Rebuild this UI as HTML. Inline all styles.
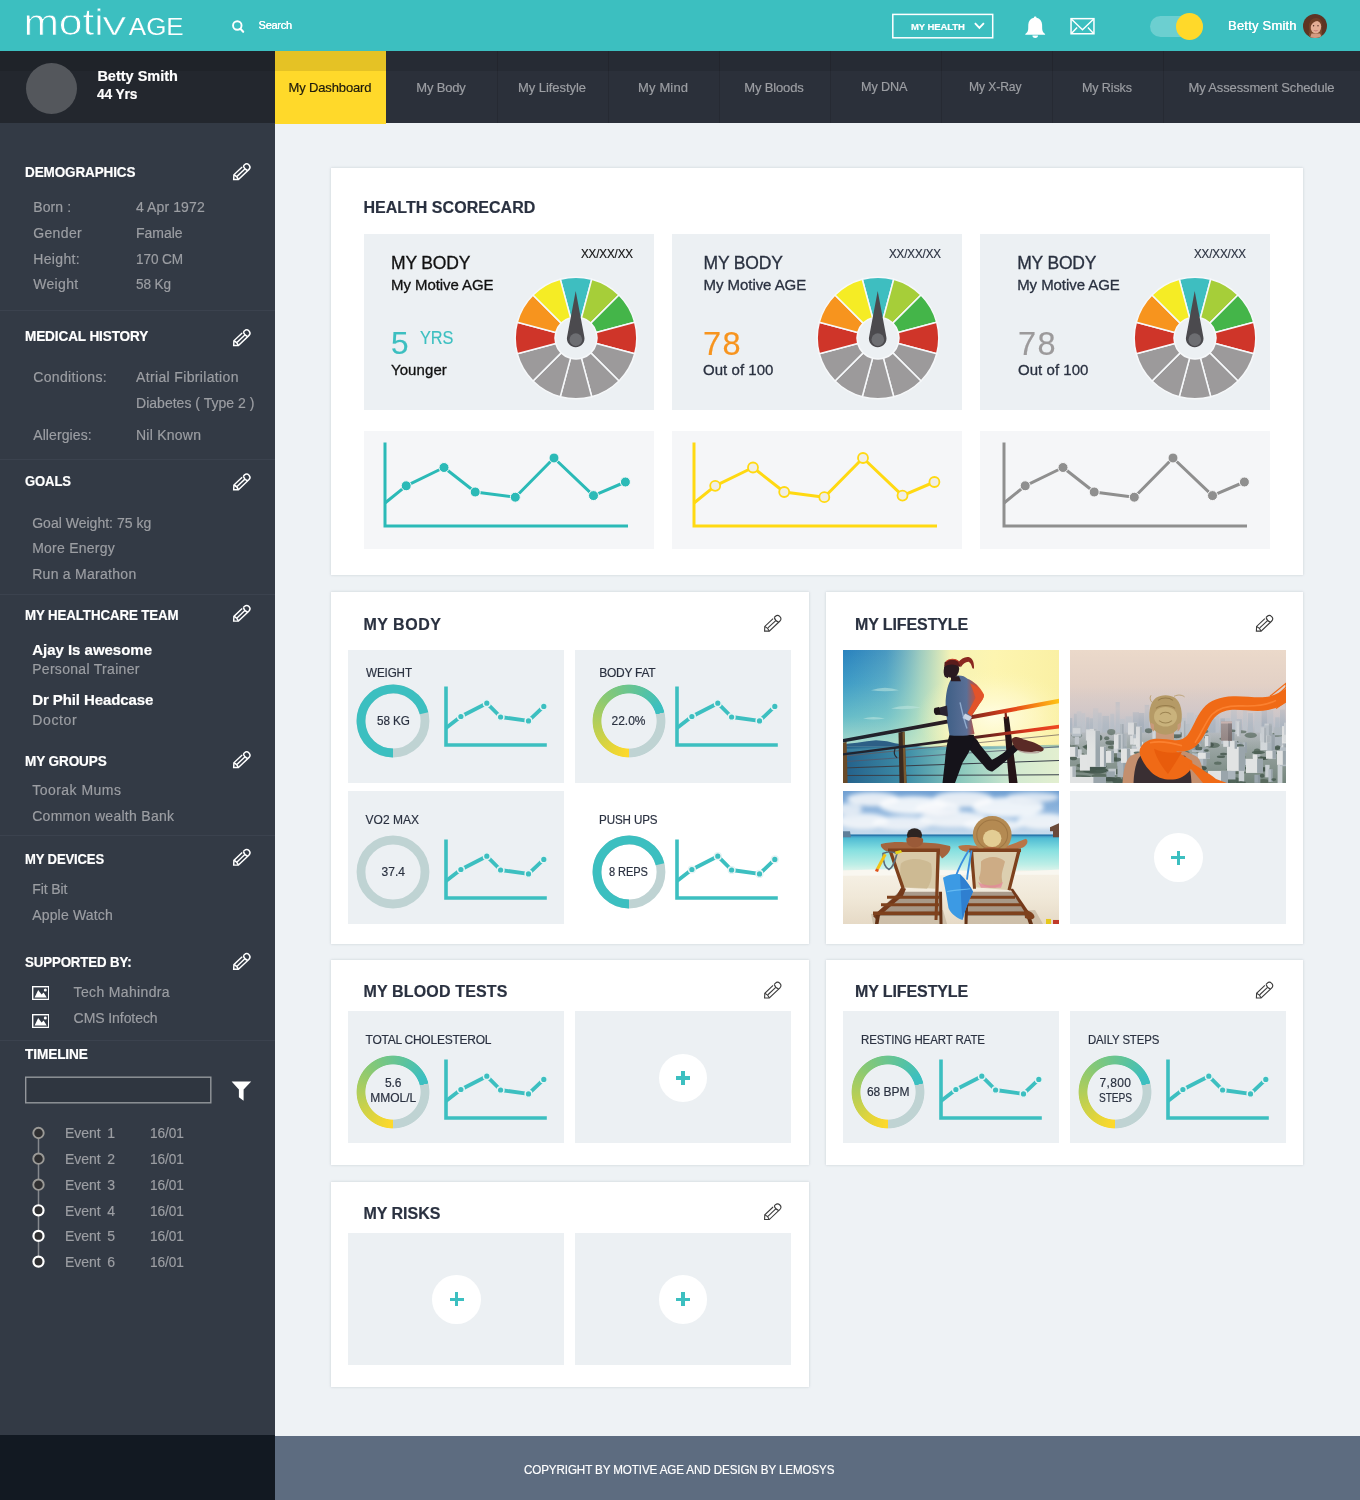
<!DOCTYPE html>
<html lang="en">
<head>
<meta charset="utf-8">
<title>motivAGE - My Dashboard</title>
<style>
html,body{margin:0;padding:0;}
body{position:relative;width:1360px;height:1500px;overflow:hidden;background:#eef2f5;font-family:"Liberation Sans",Arial,sans-serif;}
.b{position:absolute;display:block;}
.t{position:absolute;white-space:nowrap;display:block;-webkit-text-stroke:0.18px currentColor;}
</style>
</head>
<body>
<div class="b" style="left:275px;top:123px;width:1085px;height:1312px;background:#eef2f5;"></div>
<header>
<div class="b" style="left:0px;top:0px;width:1360px;height:51px;background:#3cbfc0;"></div>
<svg class="b" style="left:0px;top:0px;" width="200" height="51" viewBox="0 0 200 51"><g font-family="Liberation Sans, sans-serif" fill="#fff" stroke="#3cbfc0"><text x="23.4" y="35.3" font-size="36.5" stroke-width="0.75" textLength="80.4" lengthAdjust="spacingAndGlyphs">moti</text><text x="102.8" y="35.3" font-size="26.6" stroke-width="0.3" textLength="23.2" lengthAdjust="spacingAndGlyphs">V</text><text x="128.8" y="35.3" font-size="23.6" stroke-width="0.1" textLength="54.9" lengthAdjust="spacingAndGlyphs">AGE</text></g></svg>
<svg class="b" style="left:230px;top:17.6px;" width="16" height="16" viewBox="0 0 16 16"><circle cx="7.3" cy="7.5" r="4.25" fill="none" stroke="#fff" stroke-width="1.9"/><path d="M10.4,10.8 L13.2,13.8" stroke="#fff" stroke-width="2.1" stroke-linecap="round"/></svg>
<span class="t" style="left:258.60px;top:19.20px;font-size:11px;line-height:12px;color:#fff;letter-spacing:-0.271px;text-shadow:0 0 0.4px #fff;">Search</span>
<svg class="b" style="left:890px;top:12px;" width="106" height="28" viewBox="0 0 106 28"><rect x="2.8" y="2.4" width="99.9" height="23.4" fill="none" stroke="#fff" stroke-width="1.5"/></svg>
<span class="t" style="left:911.40px;top:20.80px;font-size:9.8px;line-height:11px;color:#fff;font-weight:700;letter-spacing:-0.120px;transform:scaleX(0.9729);transform-origin:0 0;">MY HEALTH</span>
<svg class="b" style="left:973px;top:21px;" width="13" height="10" viewBox="0 0 13 10"><path d="M1.9,2.2 L6.4,6.9 L10.9,2.2" fill="none" stroke="#fff" stroke-width="1.9"/></svg>
<svg class="b" style="left:1023px;top:15px;" width="24" height="24" viewBox="0 0 24 24"><path d="M12.2,1.5 c0.8,0 1.3,0.5 1.3,1.2 c3.2,0.7 5.4,3.2 5.6,6.8 l0.1,4.4 c0.1,2.2 1.2,3.8 2.9,5 l0,0.9 l-19.8,0 l0,-0.9 c1.7,-1.2 2.8,-2.8 2.9,-5 l0.1,-4.4 c0.2,-3.6 2.4,-6.1 5.6,-6.8 c0,-0.7 0.5,-1.2 1.3,-1.2 z" fill="#fff"/><path d="M9.4,20.6 a2.8,2.3 0 0 0 5.6,0 z" fill="#fff"/></svg>
<svg class="b" style="left:1069px;top:17px;" width="28" height="19" viewBox="0 0 28 19"><rect x="2.05" y="1.65" width="22.9" height="15.1" fill="none" stroke="#fff" stroke-width="1.5"/><path d="M2.3,2 L13.5,12.8 L24.7,2 M2.4,16.4 L8.1,10.4 M24.6,16.4 L18.9,10.4" fill="none" stroke="#fff" stroke-width="1.4"/></svg>
<div class="b" style="left:1149.5px;top:15.5px;width:53.5px;height:21.5px;background:#6ccfd0;border-radius:11px;"></div>
<div class="b" style="left:1176px;top:12.6px;width:27px;height:27px;background:#ffd92a;border-radius:50%;"></div>
<span class="t" style="left:1228.00px;top:18.40px;font-size:13px;line-height:15px;color:#fff;letter-spacing:0.213px;text-shadow:0 0 0.5px #fff;">Betty Smith</span>
<svg class="b" style="left:1302.5px;top:13.5px;" width="24" height="24" viewBox="0 0 24 24"><defs><clipPath id="avc"><circle cx="12" cy="12" r="12"/></clipPath></defs><g clip-path="url(#avc)"><rect width="24" height="24" fill="#5e3423"/><path d="M6,24 L6,12 C6,5 18,5 18.5,12 L19,24 Z" fill="#7d4a2e"/><ellipse cx="12.8" cy="12.6" rx="5.4" ry="6.9" fill="#e3ad95"/><path d="M6.2,13.5 C5.5,6.5 10,3.6 13.5,4 C17.5,4.4 19.6,7.5 19.2,12.5 C18.4,9.6 16.6,7.6 14.2,7 C11.4,7.4 8.4,9.4 7.6,13.2 L7,19 L5.4,19 Z" fill="#6f3f27"/><path d="M10.4,16.3 Q12.9,18.1 15.3,16.3 Q12.9,17 10.4,16.3Z" fill="#b04858"/><circle cx="10.6" cy="11.7" r="0.7" fill="#4a2a22"/><circle cx="15" cy="11.7" r="0.7" fill="#4a2a22"/><path d="M8.5,19.4 L17,19.4 L19,24 L7,24Z" fill="#d39a82"/></g></svg>
</header>
<nav>
<div class="b" style="left:0px;top:51px;width:275px;height:72px;background:#23272e;"></div>
<div class="b" style="left:275px;top:51px;width:1085px;height:72px;background:#2b303a;"></div>
<div class="b" style="left:275px;top:51px;width:111px;height:72.5px;background:#ffd92a;"></div>
<div class="b" style="left:496.5px;top:51px;width:1px;height:72px;background:#262a33;"></div>
<div class="b" style="left:607.5px;top:51px;width:1px;height:72px;background:#262a33;"></div>
<div class="b" style="left:718.5px;top:51px;width:1px;height:72px;background:#262a33;"></div>
<div class="b" style="left:829.5px;top:51px;width:1px;height:72px;background:#262a33;"></div>
<div class="b" style="left:940.5px;top:51px;width:1px;height:72px;background:#262a33;"></div>
<div class="b" style="left:1051.5px;top:51px;width:1px;height:72px;background:#262a33;"></div>
<div class="b" style="left:1162.5px;top:51px;width:1px;height:72px;background:#262a33;"></div>
<div class="b" style="left:0px;top:51px;width:1360px;height:20px;background:rgba(0,0,0,0.10);"></div>
<span class="t" style="left:288.50px;top:80.30px;font-size:13px;line-height:15px;color:#1d1a0c;letter-spacing:-0.140px;">My Dashboard</span>
<span class="t" style="left:416.25px;top:80.30px;font-size:13px;line-height:15px;color:#9c9ea3;letter-spacing:-0.179px;">My Body</span>
<span class="t" style="left:518.00px;top:80.30px;font-size:13px;line-height:15px;color:#9c9ea3;letter-spacing:-0.057px;">My Lifestyle</span>
<span class="t" style="left:638.00px;top:80.30px;font-size:13px;line-height:15px;color:#9c9ea3;letter-spacing:0.147px;">My Mind</span>
<span class="t" style="left:744.25px;top:80.30px;font-size:13px;line-height:15px;color:#9c9ea3;letter-spacing:-0.149px;">My Bloods</span>
<span class="t" style="left:861.25px;top:79.30px;font-size:13px;line-height:15px;color:#9c9ea3;letter-spacing:-0.120px;transform:scaleX(0.9730);transform-origin:0 0;">My DNA</span>
<span class="t" style="left:969.25px;top:79.30px;font-size:13px;line-height:15px;color:#9c9ea3;letter-spacing:-0.120px;transform:scaleX(0.9338);transform-origin:0 0;">My X-Ray</span>
<span class="t" style="left:1082.00px;top:80.30px;font-size:13px;line-height:15px;color:#9c9ea3;letter-spacing:-0.120px;transform:scaleX(0.9638);transform-origin:0 0;">My Risks</span>
<span class="t" style="left:1188.50px;top:80.30px;font-size:13px;line-height:15px;color:#9c9ea3;letter-spacing:-0.136px;">My Assessment Schedule</span>
<div class="b" style="left:25.5px;top:62.5px;width:51px;height:51px;background:#54575c;border-radius:50%;"></div>
<span class="t" style="left:97.40px;top:68.20px;font-size:14.5px;line-height:16px;color:#fff;font-weight:700;">Betty Smith</span>
<span class="t" style="left:97.40px;top:85.80px;font-size:14.5px;line-height:16px;color:#fff;font-weight:700;letter-spacing:-0.120px;transform:scaleX(0.9490);transform-origin:0 0;">44 Yrs</span>
</nav>
<aside>
<div class="b" style="left:0px;top:123px;width:275px;height:1312px;background:#333a45;"></div>
<div class="b" style="left:0px;top:1435px;width:275px;height:65px;background:#121922;"></div>
<div class="b" style="left:0px;top:310px;width:275px;height:1px;background:#3b424e;"></div>
<div class="b" style="left:0px;top:459px;width:275px;height:1px;background:#3b424e;"></div>
<div class="b" style="left:0px;top:594px;width:275px;height:1px;background:#3b424e;"></div>
<div class="b" style="left:0px;top:834.5px;width:275px;height:1px;background:#3b424e;"></div>
<div class="b" style="left:0px;top:1039.5px;width:275px;height:1px;background:#3b424e;"></div>
<span class="t" style="left:24.50px;top:164.20px;font-size:14px;line-height:16px;color:#fff;font-weight:700;letter-spacing:-0.120px;transform:scaleX(0.9644);transform-origin:0 0;">DEMOGRAPHICS</span>
<svg class="b" style="left:0;top:0;overflow:visible" width="1" height="1"><g transform="translate(241.3,172.3) rotate(-43.5) translate(-10.7,0)" fill="none" stroke="#fff" stroke-width="1.45" stroke-linejoin="miter" stroke-linecap="butt"><path d="M15,-3.25 L3.6,-3.25 L0.2,0 L3.6,3.25 L18.0,3.25 A3.3,3.25 0 0 0 18.0,-3.25 L16.6,-3.25"/><path d="M4.8,0 L15.6,0"/><path d="M3.6,-3.25 Q5.2,0 3.6,3.25"/><path d="M16.6,-3.25 Q14.9,0 16.6,3.25"/></g></svg>
<span class="t" style="left:33.20px;top:199.00px;font-size:14px;line-height:16px;color:#9c9ea3;letter-spacing:0.129px;">Born :</span>
<span class="t" style="left:136.00px;top:199.00px;font-size:14px;line-height:16px;color:#9c9ea3;letter-spacing:0.108px;">4 Apr 1972</span>
<span class="t" style="left:33.20px;top:224.80px;font-size:14px;line-height:16px;color:#9c9ea3;letter-spacing:0.360px;">Gender</span>
<span class="t" style="left:136.00px;top:224.80px;font-size:14px;line-height:16px;color:#9c9ea3;letter-spacing:-0.037px;">Famale</span>
<span class="t" style="left:33.20px;top:250.60px;font-size:14px;line-height:16px;color:#9c9ea3;letter-spacing:0.357px;">Height:</span>
<span class="t" style="left:136.00px;top:250.60px;font-size:14px;line-height:16px;color:#9c9ea3;letter-spacing:-0.120px;transform:scaleX(0.9706);transform-origin:0 0;">170 CM</span>
<span class="t" style="left:33.20px;top:276.30px;font-size:14px;line-height:16px;color:#9c9ea3;letter-spacing:0.336px;">Weight</span>
<span class="t" style="left:136.00px;top:276.30px;font-size:14px;line-height:16px;color:#9c9ea3;letter-spacing:-0.120px;transform:scaleX(0.9693);transform-origin:0 0;">58 Kg</span>
<span class="t" style="left:24.50px;top:327.90px;font-size:14px;line-height:16px;color:#fff;font-weight:700;letter-spacing:-0.120px;transform:scaleX(0.9694);transform-origin:0 0;">MEDICAL HISTORY</span>
<svg class="b" style="left:0;top:0;overflow:visible" width="1" height="1"><g transform="translate(241.3,338.3) rotate(-43.5) translate(-10.7,0)" fill="none" stroke="#fff" stroke-width="1.45" stroke-linejoin="miter" stroke-linecap="butt"><path d="M15,-3.25 L3.6,-3.25 L0.2,0 L3.6,3.25 L18.0,3.25 A3.3,3.25 0 0 0 18.0,-3.25 L16.6,-3.25"/><path d="M4.8,0 L15.6,0"/><path d="M3.6,-3.25 Q5.2,0 3.6,3.25"/><path d="M16.6,-3.25 Q14.9,0 16.6,3.25"/></g></svg>
<span class="t" style="left:33.20px;top:369.20px;font-size:14px;line-height:16px;color:#9c9ea3;letter-spacing:0.346px;">Conditions:</span>
<span class="t" style="left:136.00px;top:369.20px;font-size:14px;line-height:16px;color:#9c9ea3;letter-spacing:0.354px;">Atrial Fibrilation</span>
<span class="t" style="left:136.00px;top:395.00px;font-size:14px;line-height:16px;color:#9c9ea3;letter-spacing:0.021px;">Diabetes ( Type 2 )</span>
<span class="t" style="left:33.20px;top:426.60px;font-size:14px;line-height:16px;color:#9c9ea3;letter-spacing:0.102px;">Allergies:</span>
<span class="t" style="left:136.00px;top:426.60px;font-size:14px;line-height:16px;color:#9c9ea3;letter-spacing:0.246px;">Nil Known</span>
<span class="t" style="left:24.50px;top:473.10px;font-size:14px;line-height:16px;color:#fff;font-weight:700;letter-spacing:-0.120px;transform:scaleX(0.9331);transform-origin:0 0;">GOALS</span>
<svg class="b" style="left:0;top:0;overflow:visible" width="1" height="1"><g transform="translate(241.3,482.5) rotate(-43.5) translate(-10.7,0)" fill="none" stroke="#fff" stroke-width="1.45" stroke-linejoin="miter" stroke-linecap="butt"><path d="M15,-3.25 L3.6,-3.25 L0.2,0 L3.6,3.25 L18.0,3.25 A3.3,3.25 0 0 0 18.0,-3.25 L16.6,-3.25"/><path d="M4.8,0 L15.6,0"/><path d="M3.6,-3.25 Q5.2,0 3.6,3.25"/><path d="M16.6,-3.25 Q14.9,0 16.6,3.25"/></g></svg>
<span class="t" style="left:32.20px;top:514.90px;font-size:14px;line-height:16px;color:#9c9ea3;letter-spacing:0.011px;">Goal Weight: 75 kg</span>
<span class="t" style="left:32.20px;top:540.20px;font-size:14px;line-height:16px;color:#9c9ea3;letter-spacing:0.235px;">More Energy</span>
<span class="t" style="left:32.20px;top:566.20px;font-size:14px;line-height:16px;color:#9c9ea3;letter-spacing:0.277px;">Run a Marathon</span>
<span class="t" style="left:24.50px;top:606.70px;font-size:14px;line-height:16px;color:#fff;font-weight:700;letter-spacing:-0.120px;transform:scaleX(0.9508);transform-origin:0 0;">MY HEALTHCARE TEAM</span>
<svg class="b" style="left:0;top:0;overflow:visible" width="1" height="1"><g transform="translate(241.3,613.9) rotate(-43.5) translate(-10.7,0)" fill="none" stroke="#fff" stroke-width="1.45" stroke-linejoin="miter" stroke-linecap="butt"><path d="M15,-3.25 L3.6,-3.25 L0.2,0 L3.6,3.25 L18.0,3.25 A3.3,3.25 0 0 0 18.0,-3.25 L16.6,-3.25"/><path d="M4.8,0 L15.6,0"/><path d="M3.6,-3.25 Q5.2,0 3.6,3.25"/><path d="M16.6,-3.25 Q14.9,0 16.6,3.25"/></g></svg>
<span class="t" style="left:32.20px;top:640.60px;font-size:15px;line-height:17px;color:#fff;font-weight:700;letter-spacing:-0.019px;">Ajay Is awesome</span>
<span class="t" style="left:32.20px;top:661.20px;font-size:14px;line-height:16px;color:#9c9ea3;letter-spacing:0.299px;">Personal Trainer</span>
<span class="t" style="left:32.20px;top:691.00px;font-size:15px;line-height:17px;color:#fff;font-weight:700;letter-spacing:-0.091px;">Dr Phil Headcase</span>
<span class="t" style="left:32.20px;top:711.80px;font-size:14px;line-height:16px;color:#9c9ea3;letter-spacing:0.653px;">Doctor</span>
<span class="t" style="left:24.50px;top:752.90px;font-size:14px;line-height:16px;color:#fff;font-weight:700;letter-spacing:-0.120px;transform:scaleX(0.9697);transform-origin:0 0;">MY GROUPS</span>
<svg class="b" style="left:0;top:0;overflow:visible" width="1" height="1"><g transform="translate(241.3,760.3) rotate(-43.5) translate(-10.7,0)" fill="none" stroke="#fff" stroke-width="1.45" stroke-linejoin="miter" stroke-linecap="butt"><path d="M15,-3.25 L3.6,-3.25 L0.2,0 L3.6,3.25 L18.0,3.25 A3.3,3.25 0 0 0 18.0,-3.25 L16.6,-3.25"/><path d="M4.8,0 L15.6,0"/><path d="M3.6,-3.25 Q5.2,0 3.6,3.25"/><path d="M16.6,-3.25 Q14.9,0 16.6,3.25"/></g></svg>
<span class="t" style="left:32.20px;top:782.30px;font-size:14px;line-height:16px;color:#9c9ea3;letter-spacing:0.478px;">Toorak Mums</span>
<span class="t" style="left:32.20px;top:808.20px;font-size:14px;line-height:16px;color:#9c9ea3;letter-spacing:0.291px;">Common wealth Bank</span>
<span class="t" style="left:24.50px;top:850.70px;font-size:14px;line-height:16px;color:#fff;font-weight:700;letter-spacing:-0.120px;transform:scaleX(0.9303);transform-origin:0 0;">MY DEVICES</span>
<svg class="b" style="left:0;top:0;overflow:visible" width="1" height="1"><g transform="translate(241.3,857.9) rotate(-43.5) translate(-10.7,0)" fill="none" stroke="#fff" stroke-width="1.45" stroke-linejoin="miter" stroke-linecap="butt"><path d="M15,-3.25 L3.6,-3.25 L0.2,0 L3.6,3.25 L18.0,3.25 A3.3,3.25 0 0 0 18.0,-3.25 L16.6,-3.25"/><path d="M4.8,0 L15.6,0"/><path d="M3.6,-3.25 Q5.2,0 3.6,3.25"/><path d="M16.6,-3.25 Q14.9,0 16.6,3.25"/></g></svg>
<span class="t" style="left:32.20px;top:880.80px;font-size:14px;line-height:16px;color:#9c9ea3;letter-spacing:-0.080px;">Fit Bit</span>
<span class="t" style="left:32.20px;top:906.50px;font-size:14px;line-height:16px;color:#9c9ea3;letter-spacing:0.175px;">Apple Watch</span>
<span class="t" style="left:24.50px;top:954.40px;font-size:14px;line-height:16px;color:#fff;font-weight:700;letter-spacing:-0.120px;transform:scaleX(0.9472);transform-origin:0 0;">SUPPORTED BY:</span>
<svg class="b" style="left:0;top:0;overflow:visible" width="1" height="1"><g transform="translate(241.3,962.0999999999999) rotate(-43.5) translate(-10.7,0)" fill="none" stroke="#fff" stroke-width="1.45" stroke-linejoin="miter" stroke-linecap="butt"><path d="M15,-3.25 L3.6,-3.25 L0.2,0 L3.6,3.25 L18.0,3.25 A3.3,3.25 0 0 0 18.0,-3.25 L16.6,-3.25"/><path d="M4.8,0 L15.6,0"/><path d="M3.6,-3.25 Q5.2,0 3.6,3.25"/><path d="M16.6,-3.25 Q14.9,0 16.6,3.25"/></g></svg>
<svg class="b" style="left:31.7px;top:986px;" width="17.4" height="14.1" viewBox="0 0 17.4 14.1"><rect x="0.7" y="0.7" width="16" height="12.7" fill="none" stroke="#fff" stroke-width="1.4"/><path d="M2.6,11.6 L6.2,4 L9.6,8.6 L11.6,6.6 L14.8,11.6 Z" fill="#fff"/><circle cx="13.3" cy="4.1" r="1.5" fill="#fff"/></svg>
<svg class="b" style="left:31.7px;top:1013.6px;" width="17.4" height="14.1" viewBox="0 0 17.4 14.1"><rect x="0.7" y="0.7" width="16" height="12.7" fill="none" stroke="#fff" stroke-width="1.4"/><path d="M2.6,11.6 L6.2,4 L9.6,8.6 L11.6,6.6 L14.8,11.6 Z" fill="#fff"/><circle cx="13.3" cy="4.1" r="1.5" fill="#fff"/></svg>
<span class="t" style="left:73.60px;top:984.20px;font-size:14px;line-height:16px;color:#9c9ea3;letter-spacing:0.347px;">Tech Mahindra</span>
<span class="t" style="left:73.60px;top:1010.20px;font-size:14px;line-height:16px;color:#9c9ea3;letter-spacing:-0.074px;">CMS Infotech</span>
<span class="t" style="left:24.50px;top:1046.40px;font-size:14px;line-height:16px;color:#fff;font-weight:700;letter-spacing:-0.120px;transform:scaleX(0.9753);transform-origin:0 0;">TIMELINE</span>
<svg class="b" style="left:24px;top:1075px;" width="190" height="30" viewBox="0 0 190 30"><rect x="1.7" y="2.2" width="185.1" height="25.6" fill="#2f3640" stroke="#94979c" stroke-width="1.4"/></svg>
<svg class="b" style="left:231px;top:1081px;" width="21" height="21" viewBox="0 0 21 21"><path d="M0.6,0.6 L20.2,0.6 L12.6,8.6 L12.6,19.8 L7.9,16.2 L7.9,8.6 Z" fill="#fff"/></svg>
<svg class="b" style="left:0;top:0;overflow:visible" width="1" height="1"><path d="M38.5,1133 L38.5,1261.6" stroke="#85888d" stroke-width="1.5"/><circle cx="38.5" cy="1133" r="5.20" fill="#2f2f31" stroke="#9b9a97" stroke-width="1.9"/><circle cx="38.5" cy="1158.7" r="5.20" fill="#2f2f31" stroke="#9b9a97" stroke-width="1.9"/><circle cx="38.5" cy="1184.7" r="5.20" fill="#2f2f31" stroke="#9b9a97" stroke-width="1.9"/><circle cx="38.5" cy="1210.3" r="5.05" fill="#2f2f31" stroke="#ffffff" stroke-width="2.2"/><circle cx="38.5" cy="1235.9" r="5.05" fill="#2f2f31" stroke="#ffffff" stroke-width="2.2"/><circle cx="38.5" cy="1261.6" r="5.05" fill="#2f2f31" stroke="#ffffff" stroke-width="2.2"/></svg>
<span class="t" style="left:65.00px;top:1125.20px;font-size:14px;line-height:16px;color:#9c9ea3;letter-spacing:-0.050px;">Event</span>
<span class="t" style="left:107.30px;top:1125.20px;font-size:14px;line-height:16px;color:#9c9ea3;">1</span>
<span class="t" style="left:150.30px;top:1125.20px;font-size:14px;line-height:16px;color:#9c9ea3;letter-spacing:-0.120px;transform:scaleX(0.9782);transform-origin:0 0;">16/01</span>
<span class="t" style="left:65.00px;top:1150.90px;font-size:14px;line-height:16px;color:#9c9ea3;letter-spacing:-0.050px;">Event</span>
<span class="t" style="left:107.30px;top:1150.90px;font-size:14px;line-height:16px;color:#9c9ea3;">2</span>
<span class="t" style="left:150.30px;top:1150.90px;font-size:14px;line-height:16px;color:#9c9ea3;letter-spacing:-0.120px;transform:scaleX(0.9782);transform-origin:0 0;">16/01</span>
<span class="t" style="left:65.00px;top:1176.90px;font-size:14px;line-height:16px;color:#9c9ea3;letter-spacing:-0.050px;">Event</span>
<span class="t" style="left:107.30px;top:1176.90px;font-size:14px;line-height:16px;color:#9c9ea3;">3</span>
<span class="t" style="left:150.30px;top:1176.90px;font-size:14px;line-height:16px;color:#9c9ea3;letter-spacing:-0.120px;transform:scaleX(0.9782);transform-origin:0 0;">16/01</span>
<span class="t" style="left:65.00px;top:1202.50px;font-size:14px;line-height:16px;color:#9c9ea3;letter-spacing:-0.050px;">Event</span>
<span class="t" style="left:107.30px;top:1202.50px;font-size:14px;line-height:16px;color:#9c9ea3;">4</span>
<span class="t" style="left:150.30px;top:1202.50px;font-size:14px;line-height:16px;color:#9c9ea3;letter-spacing:-0.120px;transform:scaleX(0.9782);transform-origin:0 0;">16/01</span>
<span class="t" style="left:65.00px;top:1228.10px;font-size:14px;line-height:16px;color:#9c9ea3;letter-spacing:-0.050px;">Event</span>
<span class="t" style="left:107.30px;top:1228.10px;font-size:14px;line-height:16px;color:#9c9ea3;">5</span>
<span class="t" style="left:150.30px;top:1228.10px;font-size:14px;line-height:16px;color:#9c9ea3;letter-spacing:-0.120px;transform:scaleX(0.9782);transform-origin:0 0;">16/01</span>
<span class="t" style="left:65.00px;top:1253.80px;font-size:14px;line-height:16px;color:#9c9ea3;letter-spacing:-0.050px;">Event</span>
<span class="t" style="left:107.30px;top:1253.80px;font-size:14px;line-height:16px;color:#9c9ea3;">6</span>
<span class="t" style="left:150.30px;top:1253.80px;font-size:14px;line-height:16px;color:#9c9ea3;letter-spacing:-0.120px;transform:scaleX(0.9782);transform-origin:0 0;">16/01</span>
</aside>
<main>
<section>
<div class="b" style="left:331px;top:167.5px;width:972px;height:407.5px;background:#fff;box-shadow:0 0 2.5px rgba(60,80,100,0.22);"></div>
<span class="t" style="left:363.40px;top:199.30px;font-size:16px;line-height:17px;color:#2a3140;font-weight:700;letter-spacing:0.049px;">HEALTH SCORECARD</span>
<div class="b" style="left:364px;top:234px;width:290px;height:176px;background:#ecf0f3;"></div>
<span class="t" style="left:391.00px;top:252.80px;font-size:17.5px;line-height:20px;color:#111;letter-spacing:-0.182px;-webkit-text-stroke:0.3px currentColor;">MY BODY</span>
<span class="t" style="left:391.00px;top:276.10px;font-size:15px;line-height:17px;color:#111;letter-spacing:-0.063px;-webkit-text-stroke:0.3px currentColor;">My Motive AGE</span>
<span class="t" style="left:580.50px;top:247.10px;font-size:12.6px;line-height:14px;color:#111;letter-spacing:-0.120px;transform:scaleX(0.9189);transform-origin:0 0;">XX/XX/XX</span>
<span class="t" style="left:391.00px;top:325.20px;font-size:31.5px;line-height:36px;color:#3cbfc0;">5</span>
<span class="t" style="left:420.20px;top:327.80px;font-size:17.6px;line-height:20px;color:#3cbfc0;letter-spacing:-0.120px;transform:scaleX(0.9263);transform-origin:0 0;">YRS</span>
<span class="t" style="left:391.00px;top:361.40px;font-size:15px;line-height:17px;color:#111;letter-spacing:0.077px;-webkit-text-stroke:0.3px currentColor;">Younger</span>
<svg class="b" style="left:511.1px;top:272.8px;" width="130" height="130" viewBox="0 0 130 130"><path d="M59.56,44.72 L49.26,6.27 A60.8,60.8 0 0 1 80.74,6.27 L70.44,44.72 A21.0,21.0 0 0 0 59.56,44.72 Z" fill="#3ebec0" stroke="#f6f8fa" stroke-width="1.5" stroke-linejoin="round"/><path d="M70.44,44.72 L80.74,6.27 A60.8,60.8 0 0 1 107.99,22.01 L79.85,50.15 A21.0,21.0 0 0 0 70.44,44.72 Z" fill="#a6ce39" stroke="#f6f8fa" stroke-width="1.5" stroke-linejoin="round"/><path d="M79.85,50.15 L107.99,22.01 A60.8,60.8 0 0 1 123.73,49.26 L85.28,59.56 A21.0,21.0 0 0 0 79.85,50.15 Z" fill="#44b549" stroke="#f6f8fa" stroke-width="1.5" stroke-linejoin="round"/><path d="M85.28,59.56 L123.73,49.26 A60.8,60.8 0 0 1 123.73,80.74 L85.28,70.44 A21.0,21.0 0 0 0 85.28,59.56 Z" fill="#cf3529" stroke="#f6f8fa" stroke-width="1.5" stroke-linejoin="round"/><path d="M85.28,70.44 L123.73,80.74 A60.8,60.8 0 0 1 107.99,107.99 L79.85,79.85 A21.0,21.0 0 0 0 85.28,70.44 Z" fill="#9c9a9b" stroke="#f6f8fa" stroke-width="1.5" stroke-linejoin="round"/><path d="M79.85,79.85 L107.99,107.99 A60.8,60.8 0 0 1 80.74,123.73 L70.44,85.28 A21.0,21.0 0 0 0 79.85,79.85 Z" fill="#9c9a9b" stroke="#f6f8fa" stroke-width="1.5" stroke-linejoin="round"/><path d="M70.44,85.28 L80.74,123.73 A60.8,60.8 0 0 1 49.26,123.73 L59.56,85.28 A21.0,21.0 0 0 0 70.44,85.28 Z" fill="#9c9a9b" stroke="#f6f8fa" stroke-width="1.5" stroke-linejoin="round"/><path d="M59.56,85.28 L49.26,123.73 A60.8,60.8 0 0 1 22.01,107.99 L50.15,79.85 A21.0,21.0 0 0 0 59.56,85.28 Z" fill="#9c9a9b" stroke="#f6f8fa" stroke-width="1.5" stroke-linejoin="round"/><path d="M50.15,79.85 L22.01,107.99 A60.8,60.8 0 0 1 6.27,80.74 L44.72,70.44 A21.0,21.0 0 0 0 50.15,79.85 Z" fill="#9c9a9b" stroke="#f6f8fa" stroke-width="1.5" stroke-linejoin="round"/><path d="M44.72,70.44 L6.27,80.74 A60.8,60.8 0 0 1 6.27,49.26 L44.72,59.56 A21.0,21.0 0 0 0 44.72,70.44 Z" fill="#cf3529" stroke="#f6f8fa" stroke-width="1.5" stroke-linejoin="round"/><path d="M44.72,59.56 L6.27,49.26 A60.8,60.8 0 0 1 22.01,22.01 L50.15,50.15 A21.0,21.0 0 0 0 44.72,59.56 Z" fill="#f7941e" stroke="#f6f8fa" stroke-width="1.5" stroke-linejoin="round"/><path d="M50.15,50.15 L22.01,22.01 A60.8,60.8 0 0 1 49.26,6.27 L59.56,44.72 A21.0,21.0 0 0 0 50.15,50.15 Z" fill="#f5ec25" stroke="#f6f8fa" stroke-width="1.5" stroke-linejoin="round"/><path d="M64.7,18.0 L73.2,63.2 A8.8,8.8 0 1 1 56.2,63.2 Z" fill="#4b4a4e"/><circle cx="64.8" cy="66.6" r="6.3" fill="#6d6e72"/></svg>
<div class="b" style="left:672px;top:234px;width:290px;height:176px;background:#ecf0f3;"></div>
<span class="t" style="left:703.60px;top:252.80px;font-size:17.5px;line-height:20px;color:#2a3140;letter-spacing:-0.182px;-webkit-text-stroke:0.3px currentColor;">MY BODY</span>
<span class="t" style="left:703.60px;top:276.10px;font-size:15px;line-height:17px;color:#2a3140;letter-spacing:-0.063px;-webkit-text-stroke:0.3px currentColor;">My Motive AGE</span>
<span class="t" style="left:888.50px;top:247.10px;font-size:12.6px;line-height:14px;color:#2a3140;letter-spacing:-0.120px;transform:scaleX(0.9189);transform-origin:0 0;">XX/XX/XX</span>
<span class="t" style="left:703.00px;top:325.50px;font-size:32.5px;line-height:36px;color:#f7941e;letter-spacing:1.449px;">78</span>
<span class="t" style="left:703.00px;top:361.40px;font-size:15px;line-height:17px;color:#2a3140;letter-spacing:0.039px;-webkit-text-stroke:0.3px currentColor;">Out of 100</span>
<svg class="b" style="left:813.1px;top:272.8px;" width="130" height="130" viewBox="0 0 130 130"><path d="M59.56,44.72 L49.26,6.27 A60.8,60.8 0 0 1 80.74,6.27 L70.44,44.72 A21.0,21.0 0 0 0 59.56,44.72 Z" fill="#3ebec0" stroke="#f6f8fa" stroke-width="1.5" stroke-linejoin="round"/><path d="M70.44,44.72 L80.74,6.27 A60.8,60.8 0 0 1 107.99,22.01 L79.85,50.15 A21.0,21.0 0 0 0 70.44,44.72 Z" fill="#a6ce39" stroke="#f6f8fa" stroke-width="1.5" stroke-linejoin="round"/><path d="M79.85,50.15 L107.99,22.01 A60.8,60.8 0 0 1 123.73,49.26 L85.28,59.56 A21.0,21.0 0 0 0 79.85,50.15 Z" fill="#44b549" stroke="#f6f8fa" stroke-width="1.5" stroke-linejoin="round"/><path d="M85.28,59.56 L123.73,49.26 A60.8,60.8 0 0 1 123.73,80.74 L85.28,70.44 A21.0,21.0 0 0 0 85.28,59.56 Z" fill="#cf3529" stroke="#f6f8fa" stroke-width="1.5" stroke-linejoin="round"/><path d="M85.28,70.44 L123.73,80.74 A60.8,60.8 0 0 1 107.99,107.99 L79.85,79.85 A21.0,21.0 0 0 0 85.28,70.44 Z" fill="#9c9a9b" stroke="#f6f8fa" stroke-width="1.5" stroke-linejoin="round"/><path d="M79.85,79.85 L107.99,107.99 A60.8,60.8 0 0 1 80.74,123.73 L70.44,85.28 A21.0,21.0 0 0 0 79.85,79.85 Z" fill="#9c9a9b" stroke="#f6f8fa" stroke-width="1.5" stroke-linejoin="round"/><path d="M70.44,85.28 L80.74,123.73 A60.8,60.8 0 0 1 49.26,123.73 L59.56,85.28 A21.0,21.0 0 0 0 70.44,85.28 Z" fill="#9c9a9b" stroke="#f6f8fa" stroke-width="1.5" stroke-linejoin="round"/><path d="M59.56,85.28 L49.26,123.73 A60.8,60.8 0 0 1 22.01,107.99 L50.15,79.85 A21.0,21.0 0 0 0 59.56,85.28 Z" fill="#9c9a9b" stroke="#f6f8fa" stroke-width="1.5" stroke-linejoin="round"/><path d="M50.15,79.85 L22.01,107.99 A60.8,60.8 0 0 1 6.27,80.74 L44.72,70.44 A21.0,21.0 0 0 0 50.15,79.85 Z" fill="#9c9a9b" stroke="#f6f8fa" stroke-width="1.5" stroke-linejoin="round"/><path d="M44.72,70.44 L6.27,80.74 A60.8,60.8 0 0 1 6.27,49.26 L44.72,59.56 A21.0,21.0 0 0 0 44.72,70.44 Z" fill="#cf3529" stroke="#f6f8fa" stroke-width="1.5" stroke-linejoin="round"/><path d="M44.72,59.56 L6.27,49.26 A60.8,60.8 0 0 1 22.01,22.01 L50.15,50.15 A21.0,21.0 0 0 0 44.72,59.56 Z" fill="#f7941e" stroke="#f6f8fa" stroke-width="1.5" stroke-linejoin="round"/><path d="M50.15,50.15 L22.01,22.01 A60.8,60.8 0 0 1 49.26,6.27 L59.56,44.72 A21.0,21.0 0 0 0 50.15,50.15 Z" fill="#f5ec25" stroke="#f6f8fa" stroke-width="1.5" stroke-linejoin="round"/><path d="M64.7,18.0 L73.2,63.2 A8.8,8.8 0 1 1 56.2,63.2 Z" fill="#4b4a4e"/><circle cx="64.8" cy="66.6" r="6.3" fill="#6d6e72"/></svg>
<div class="b" style="left:980px;top:234px;width:290px;height:176px;background:#ecf0f3;"></div>
<span class="t" style="left:1017.20px;top:252.80px;font-size:17.5px;line-height:20px;color:#2a3140;letter-spacing:-0.182px;-webkit-text-stroke:0.3px currentColor;">MY BODY</span>
<span class="t" style="left:1017.20px;top:276.10px;font-size:15px;line-height:17px;color:#2a3140;letter-spacing:-0.063px;-webkit-text-stroke:0.3px currentColor;">My Motive AGE</span>
<span class="t" style="left:1193.80px;top:247.10px;font-size:12.6px;line-height:14px;color:#2a3140;letter-spacing:-0.120px;transform:scaleX(0.9189);transform-origin:0 0;">XX/XX/XX</span>
<span class="t" style="left:1018.00px;top:325.50px;font-size:32.5px;line-height:36px;color:#9c9a9b;letter-spacing:1.449px;">78</span>
<span class="t" style="left:1018.00px;top:361.40px;font-size:15px;line-height:17px;color:#2a3140;letter-spacing:0.039px;-webkit-text-stroke:0.3px currentColor;">Out of 100</span>
<svg class="b" style="left:1130.4px;top:272.8px;" width="130" height="130" viewBox="0 0 130 130"><path d="M59.56,44.72 L49.26,6.27 A60.8,60.8 0 0 1 80.74,6.27 L70.44,44.72 A21.0,21.0 0 0 0 59.56,44.72 Z" fill="#3ebec0" stroke="#f6f8fa" stroke-width="1.5" stroke-linejoin="round"/><path d="M70.44,44.72 L80.74,6.27 A60.8,60.8 0 0 1 107.99,22.01 L79.85,50.15 A21.0,21.0 0 0 0 70.44,44.72 Z" fill="#a6ce39" stroke="#f6f8fa" stroke-width="1.5" stroke-linejoin="round"/><path d="M79.85,50.15 L107.99,22.01 A60.8,60.8 0 0 1 123.73,49.26 L85.28,59.56 A21.0,21.0 0 0 0 79.85,50.15 Z" fill="#44b549" stroke="#f6f8fa" stroke-width="1.5" stroke-linejoin="round"/><path d="M85.28,59.56 L123.73,49.26 A60.8,60.8 0 0 1 123.73,80.74 L85.28,70.44 A21.0,21.0 0 0 0 85.28,59.56 Z" fill="#cf3529" stroke="#f6f8fa" stroke-width="1.5" stroke-linejoin="round"/><path d="M85.28,70.44 L123.73,80.74 A60.8,60.8 0 0 1 107.99,107.99 L79.85,79.85 A21.0,21.0 0 0 0 85.28,70.44 Z" fill="#9c9a9b" stroke="#f6f8fa" stroke-width="1.5" stroke-linejoin="round"/><path d="M79.85,79.85 L107.99,107.99 A60.8,60.8 0 0 1 80.74,123.73 L70.44,85.28 A21.0,21.0 0 0 0 79.85,79.85 Z" fill="#9c9a9b" stroke="#f6f8fa" stroke-width="1.5" stroke-linejoin="round"/><path d="M70.44,85.28 L80.74,123.73 A60.8,60.8 0 0 1 49.26,123.73 L59.56,85.28 A21.0,21.0 0 0 0 70.44,85.28 Z" fill="#9c9a9b" stroke="#f6f8fa" stroke-width="1.5" stroke-linejoin="round"/><path d="M59.56,85.28 L49.26,123.73 A60.8,60.8 0 0 1 22.01,107.99 L50.15,79.85 A21.0,21.0 0 0 0 59.56,85.28 Z" fill="#9c9a9b" stroke="#f6f8fa" stroke-width="1.5" stroke-linejoin="round"/><path d="M50.15,79.85 L22.01,107.99 A60.8,60.8 0 0 1 6.27,80.74 L44.72,70.44 A21.0,21.0 0 0 0 50.15,79.85 Z" fill="#9c9a9b" stroke="#f6f8fa" stroke-width="1.5" stroke-linejoin="round"/><path d="M44.72,70.44 L6.27,80.74 A60.8,60.8 0 0 1 6.27,49.26 L44.72,59.56 A21.0,21.0 0 0 0 44.72,70.44 Z" fill="#cf3529" stroke="#f6f8fa" stroke-width="1.5" stroke-linejoin="round"/><path d="M44.72,59.56 L6.27,49.26 A60.8,60.8 0 0 1 22.01,22.01 L50.15,50.15 A21.0,21.0 0 0 0 44.72,59.56 Z" fill="#f7941e" stroke="#f6f8fa" stroke-width="1.5" stroke-linejoin="round"/><path d="M50.15,50.15 L22.01,22.01 A60.8,60.8 0 0 1 49.26,6.27 L59.56,44.72 A21.0,21.0 0 0 0 50.15,50.15 Z" fill="#f5ec25" stroke="#f6f8fa" stroke-width="1.5" stroke-linejoin="round"/><path d="M64.7,18.0 L73.2,63.2 A8.8,8.8 0 1 1 56.2,63.2 Z" fill="#4b4a4e"/><circle cx="64.8" cy="66.6" r="6.3" fill="#6d6e72"/></svg>
<div class="b" style="left:364px;top:431px;width:290px;height:118px;background:#f5f6f8;"></div>
<svg class="b" style="left:381px;top:438px;" width="256" height="96" viewBox="0 0 256 96"><path d="M4.0,4.5 L4.0,88.0 L247.0,88.0" fill="none" stroke="#2bbab7" stroke-width="3"/><polyline points="4.0,65.0 25.2,47.8 63.0,29.5 94.2,54.0 134.3,59.2 173.0,20.0 212.5,57.6 244.4,44.0" fill="none" stroke="#2bbab7" stroke-width="3" stroke-linejoin="round"/><circle cx="25.2" cy="47.8" r="5" fill="#2bbab7" stroke="#f8f8f9" stroke-width="1"/><circle cx="63.0" cy="29.5" r="5" fill="#2bbab7" stroke="#f8f8f9" stroke-width="1"/><circle cx="94.2" cy="54.0" r="5" fill="#2bbab7" stroke="#f8f8f9" stroke-width="1"/><circle cx="134.3" cy="59.2" r="5" fill="#2bbab7" stroke="#f8f8f9" stroke-width="1"/><circle cx="173.0" cy="20.0" r="5" fill="#2bbab7" stroke="#f8f8f9" stroke-width="1"/><circle cx="212.5" cy="57.6" r="5" fill="#2bbab7" stroke="#f8f8f9" stroke-width="1"/><circle cx="244.4" cy="44.0" r="5" fill="#2bbab7" stroke="#f8f8f9" stroke-width="1"/></svg>
<div class="b" style="left:672px;top:431px;width:290px;height:118px;background:#f5f6f8;"></div>
<svg class="b" style="left:689.5px;top:438px;" width="256" height="96" viewBox="0 0 256 96"><path d="M4.0,4.5 L4.0,88.0 L247.0,88.0" fill="none" stroke="#ffd912" stroke-width="3"/><polyline points="4.0,65.0 25.2,47.8 63.0,29.5 94.2,54.0 134.3,59.2 173.0,20.0 212.5,57.6 244.4,44.0" fill="none" stroke="#ffd912" stroke-width="3" stroke-linejoin="round"/><circle cx="25.2" cy="47.8" r="5" fill="#f0eee6" stroke="#ffd912" stroke-width="1.8"/><circle cx="63.0" cy="29.5" r="5" fill="#f0eee6" stroke="#ffd912" stroke-width="1.8"/><circle cx="94.2" cy="54.0" r="5" fill="#f0eee6" stroke="#ffd912" stroke-width="1.8"/><circle cx="134.3" cy="59.2" r="5" fill="#f0eee6" stroke="#ffd912" stroke-width="1.8"/><circle cx="173.0" cy="20.0" r="5" fill="#f0eee6" stroke="#ffd912" stroke-width="1.8"/><circle cx="212.5" cy="57.6" r="5" fill="#f0eee6" stroke="#ffd912" stroke-width="1.8"/><circle cx="244.4" cy="44.0" r="5" fill="#f0eee6" stroke="#ffd912" stroke-width="1.8"/></svg>
<div class="b" style="left:980px;top:431px;width:290px;height:118px;background:#f5f6f8;"></div>
<svg class="b" style="left:1000.2px;top:438px;" width="256" height="96" viewBox="0 0 256 96"><path d="M4.0,4.5 L4.0,88.0 L247.0,88.0" fill="none" stroke="#8f8f8f" stroke-width="3"/><polyline points="4.0,65.0 25.2,47.8 63.0,29.5 94.2,54.0 134.3,59.2 173.0,20.0 212.5,57.6 244.4,44.0" fill="none" stroke="#8f8f8f" stroke-width="3" stroke-linejoin="round"/><circle cx="25.2" cy="47.8" r="5" fill="#8f8f8f" stroke="#f8f8f9" stroke-width="1"/><circle cx="63.0" cy="29.5" r="5" fill="#8f8f8f" stroke="#f8f8f9" stroke-width="1"/><circle cx="94.2" cy="54.0" r="5" fill="#8f8f8f" stroke="#f8f8f9" stroke-width="1"/><circle cx="134.3" cy="59.2" r="5" fill="#8f8f8f" stroke="#f8f8f9" stroke-width="1"/><circle cx="173.0" cy="20.0" r="5" fill="#8f8f8f" stroke="#f8f8f9" stroke-width="1"/><circle cx="212.5" cy="57.6" r="5" fill="#8f8f8f" stroke="#f8f8f9" stroke-width="1"/><circle cx="244.4" cy="44.0" r="5" fill="#8f8f8f" stroke="#f8f8f9" stroke-width="1"/></svg>
</section>
<section>
<div class="b" style="left:331px;top:592px;width:478px;height:352px;background:#fff;box-shadow:0 0 2.5px rgba(60,80,100,0.22);"></div>
<span class="t" style="left:363.40px;top:615.90px;font-size:16px;line-height:17px;color:#2a3140;font-weight:700;letter-spacing:0.519px;">MY BODY</span>
<svg class="b" style="left:0;top:0;overflow:visible" width="1" height="1"><g transform="translate(772.2,623.9) rotate(-43.5) translate(-10.7,0)" fill="none" stroke="#3c3c3c" stroke-width="1.1" stroke-linejoin="miter" stroke-linecap="butt"><path d="M15,-3.25 L3.6,-3.25 L0.2,0 L3.6,3.25 L18.0,3.25 A3.3,3.25 0 0 0 18.0,-3.25 L16.6,-3.25"/><path d="M4.8,0 L15.6,0"/><path d="M3.6,-3.25 Q5.2,0 3.6,3.25"/><path d="M16.6,-3.25 Q14.9,0 16.6,3.25"/></g></svg>
<div class="b" style="left:348px;top:650px;width:216px;height:133px;background:#ecf0f3;"></div>
<span class="t" style="left:365.60px;top:666.30px;font-size:12px;line-height:14px;color:#2a3140;letter-spacing:-0.120px;transform:scaleX(0.9706);transform-origin:0 0;">WEIGHT</span>
<svg class="b" style="left:355.2px;top:682.6px;" width="76" height="76" viewBox="0 0 76 76"><circle cx="38.0" cy="38.0" r="32.0" fill="none" stroke="#bfd3d3" stroke-width="8.8"/><path d="M38.00,70.00 A32.0,32.0 0 1 1 69.05,30.26" fill="none" stroke="#3cbfc0" stroke-width="8.8"/></svg>
<span class="t" style="left:376.80px;top:714.00px;font-size:12px;line-height:14px;color:#2a3140;letter-spacing:-0.120px;transform:scaleX(0.9779);transform-origin:0 0;">58 KG</span>
<svg class="b" style="left:442px;top:683px;" width="112" height="68" viewBox="0 0 112 68"><path d="M4.0,3.5 L4.0,62.0 L104.8,62.0" fill="none" stroke="#3cbfc0" stroke-width="3.6"/><polyline points="4.0,45.0 18.9,33.5 44.8,20.2 58.6,34.0 86.5,37.9 101.8,23.4" fill="none" stroke="#3cbfc0" stroke-width="3.8" stroke-linejoin="round"/><circle cx="18.9" cy="33.5" r="3.35" fill="#3cbfc0" stroke="#e6f3f4" stroke-width="1.5"/><circle cx="44.8" cy="20.2" r="3.35" fill="#3cbfc0" stroke="#e6f3f4" stroke-width="1.5"/><circle cx="58.6" cy="34.0" r="3.35" fill="#3cbfc0" stroke="#e6f3f4" stroke-width="1.5"/><circle cx="86.5" cy="37.9" r="3.35" fill="#3cbfc0" stroke="#e6f3f4" stroke-width="1.5"/><circle cx="101.8" cy="23.4" r="3.35" fill="#3cbfc0" stroke="#e6f3f4" stroke-width="1.5"/></svg>
<div class="b" style="left:575px;top:650px;width:216px;height:133px;background:#ecf0f3;"></div>
<span class="t" style="left:599.20px;top:666.30px;font-size:12px;line-height:14px;color:#2a3140;letter-spacing:-0.248px;">BODY FAT</span>
<div class="b" style="left:590.5px;top:682.6px;width:76px;height:76px;border-radius:50%;background:conic-gradient(from 180deg,#ffd92a 0deg,#ecd634 25deg,#b9cf55 80deg,#84c877 140deg,#5cc39c 200deg,#3cbfc0 245deg,#3cbfc0 256deg,#bfd3d3 256.5deg,#bfd3d3 360deg);-webkit-mask:radial-gradient(circle closest-side,transparent 27.2px,#000 28.0px,#000 36.0px,transparent 36.8px);mask:radial-gradient(circle closest-side,transparent 27.2px,#000 28.0px,#000 36.0px,transparent 36.8px);"></div>
<span class="t" style="left:611.50px;top:714.00px;font-size:12px;line-height:14px;color:#2a3140;letter-spacing:-0.006px;">22.0%</span>
<svg class="b" style="left:673.2px;top:683px;" width="112" height="68" viewBox="0 0 112 68"><path d="M4.0,3.5 L4.0,62.0 L104.8,62.0" fill="none" stroke="#3cbfc0" stroke-width="3.6"/><polyline points="4.0,45.0 18.9,33.5 44.8,20.2 58.6,34.0 86.5,37.9 101.8,23.4" fill="none" stroke="#3cbfc0" stroke-width="3.8" stroke-linejoin="round"/><circle cx="18.9" cy="33.5" r="3.35" fill="#3cbfc0" stroke="#e6f3f4" stroke-width="1.5"/><circle cx="44.8" cy="20.2" r="3.35" fill="#3cbfc0" stroke="#e6f3f4" stroke-width="1.5"/><circle cx="58.6" cy="34.0" r="3.35" fill="#3cbfc0" stroke="#e6f3f4" stroke-width="1.5"/><circle cx="86.5" cy="37.9" r="3.35" fill="#3cbfc0" stroke="#e6f3f4" stroke-width="1.5"/><circle cx="101.8" cy="23.4" r="3.35" fill="#3cbfc0" stroke="#e6f3f4" stroke-width="1.5"/></svg>
<div class="b" style="left:348px;top:791px;width:216px;height:133px;background:#ecf0f3;"></div>
<span class="t" style="left:365.60px;top:812.50px;font-size:12px;line-height:14px;color:#2a3140;letter-spacing:0.008px;">VO2 MAX</span>
<svg class="b" style="left:355.2px;top:833.6px;" width="76" height="76" viewBox="0 0 76 76"><circle cx="38.0" cy="38.0" r="32.0" fill="none" stroke="#bfd3d3" stroke-width="8.8"/></svg>
<span class="t" style="left:381.50px;top:865.00px;font-size:12px;line-height:14px;color:#2a3140;letter-spacing:0.015px;">37.4</span>
<svg class="b" style="left:442px;top:835.6px;" width="112" height="68" viewBox="0 0 112 68"><path d="M4.0,3.5 L4.0,62.0 L104.8,62.0" fill="none" stroke="#3cbfc0" stroke-width="3.6"/><polyline points="4.0,45.0 18.9,33.5 44.8,20.2 58.6,34.0 86.5,37.9 101.8,23.4" fill="none" stroke="#3cbfc0" stroke-width="3.8" stroke-linejoin="round"/><circle cx="18.9" cy="33.5" r="3.35" fill="#3cbfc0" stroke="#e6f3f4" stroke-width="1.5"/><circle cx="44.8" cy="20.2" r="3.35" fill="#3cbfc0" stroke="#e6f3f4" stroke-width="1.5"/><circle cx="58.6" cy="34.0" r="3.35" fill="#3cbfc0" stroke="#e6f3f4" stroke-width="1.5"/><circle cx="86.5" cy="37.9" r="3.35" fill="#3cbfc0" stroke="#e6f3f4" stroke-width="1.5"/><circle cx="101.8" cy="23.4" r="3.35" fill="#3cbfc0" stroke="#e6f3f4" stroke-width="1.5"/></svg>
<span class="t" style="left:599.20px;top:812.50px;font-size:12px;line-height:14px;color:#2a3140;letter-spacing:-0.120px;transform:scaleX(0.9684);transform-origin:0 0;">PUSH UPS</span>
<svg class="b" style="left:590.5px;top:833.6px;" width="76" height="76" viewBox="0 0 76 76"><circle cx="38.0" cy="38.0" r="32.0" fill="none" stroke="#bfd3d3" stroke-width="8.8"/><path d="M38.00,70.00 A32.0,32.0 0 1 1 69.05,30.26" fill="none" stroke="#3cbfc0" stroke-width="8.8"/></svg>
<span class="t" style="left:609.10px;top:865.00px;font-size:12px;line-height:14px;color:#2a3140;letter-spacing:-0.120px;transform:scaleX(0.9219);transform-origin:0 0;">8 REPS</span>
<svg class="b" style="left:673.2px;top:835.6px;" width="112" height="68" viewBox="0 0 112 68"><path d="M4.0,3.5 L4.0,62.0 L104.8,62.0" fill="none" stroke="#3cbfc0" stroke-width="3.6"/><polyline points="4.0,45.0 18.9,33.5 44.8,20.2 58.6,34.0 86.5,37.9 101.8,23.4" fill="none" stroke="#3cbfc0" stroke-width="3.8" stroke-linejoin="round"/><circle cx="18.9" cy="33.5" r="3.35" fill="#3cbfc0" stroke="#e6f3f4" stroke-width="1.5"/><circle cx="44.8" cy="20.2" r="3.35" fill="#3cbfc0" stroke="#e6f3f4" stroke-width="1.5"/><circle cx="58.6" cy="34.0" r="3.35" fill="#3cbfc0" stroke="#e6f3f4" stroke-width="1.5"/><circle cx="86.5" cy="37.9" r="3.35" fill="#3cbfc0" stroke="#e6f3f4" stroke-width="1.5"/><circle cx="101.8" cy="23.4" r="3.35" fill="#3cbfc0" stroke="#e6f3f4" stroke-width="1.5"/></svg>
</section>
<section>
<div class="b" style="left:826px;top:592px;width:477px;height:352px;background:#fff;box-shadow:0 0 2.5px rgba(60,80,100,0.22);"></div>
<span class="t" style="left:855.00px;top:615.90px;font-size:16px;line-height:17px;color:#2a3140;font-weight:700;letter-spacing:-0.108px;">MY LIFESTYLE</span>
<svg class="b" style="left:0;top:0;overflow:visible" width="1" height="1"><g transform="translate(1264,623.9) rotate(-43.5) translate(-10.7,0)" fill="none" stroke="#3c3c3c" stroke-width="1.1" stroke-linejoin="miter" stroke-linecap="butt"><path d="M15,-3.25 L3.6,-3.25 L0.2,0 L3.6,3.25 L18.0,3.25 A3.3,3.25 0 0 0 18.0,-3.25 L16.6,-3.25"/><path d="M4.8,0 L15.6,0"/><path d="M3.6,-3.25 Q5.2,0 3.6,3.25"/><path d="M16.6,-3.25 Q14.9,0 16.6,3.25"/></g></svg>
<svg class="b" style="left:843px;top:650px" width="216" height="133" preserveAspectRatio="none" viewBox="0 0 216 132">
<defs>
<linearGradient id="p1sky" x1="0" y1="0" x2="0" y2="1"><stop offset="0" stop-color="#2a82be"/><stop offset="0.25" stop-color="#3f9cc6"/><stop offset="0.5" stop-color="#66bcc8"/><stop offset="0.68" stop-color="#9fd6cc"/><stop offset="0.8" stop-color="#c4e6cc"/></linearGradient>
<linearGradient id="p1skyh" x1="0" y1="0" x2="1" y2="0"><stop offset="0" stop-color="#8fd0c8" stop-opacity="0"/><stop offset="0.2" stop-color="#a8dcc8" stop-opacity="0.25"/><stop offset="0.36" stop-color="#d2ecc0" stop-opacity="0.7"/><stop offset="0.5" stop-color="#f6f3b6" stop-opacity="1"/><stop offset="0.7" stop-color="#fdf5b0" stop-opacity="1"/><stop offset="1" stop-color="#faf0a4" stop-opacity="1"/></linearGradient>
<radialGradient id="p1sun" cx="0.7" cy="0.5" r="0.36"><stop offset="0" stop-color="#fffde6" stop-opacity="0.95"/><stop offset="0.55" stop-color="#fffad2" stop-opacity="0.5"/><stop offset="1" stop-color="#fdf6b4" stop-opacity="0"/></radialGradient>
<linearGradient id="p1sea" x1="0" y1="0" x2="1" y2="0"><stop offset="0" stop-color="#235f8a"/><stop offset="0.3" stop-color="#3f8fa8"/><stop offset="0.55" stop-color="#8cc9bd"/><stop offset="0.8" stop-color="#d3ead0"/><stop offset="1" stop-color="#e3efd0"/></linearGradient>
<linearGradient id="p1rail" gradientUnits="userSpaceOnUse" x1="0" y1="0" x2="216" y2="0"><stop offset="0" stop-color="#1d2430"/><stop offset="0.5" stop-color="#2a1c22"/><stop offset="0.62" stop-color="#8e2a1c"/><stop offset="0.78" stop-color="#e2421a"/><stop offset="0.9" stop-color="#f78a14"/><stop offset="1" stop-color="#ffc414"/></linearGradient>
<linearGradient id="p1rail2" gradientUnits="userSpaceOnUse" x1="0" y1="0" x2="216" y2="0"><stop offset="0" stop-color="#1d2430"/><stop offset="0.55" stop-color="#2a1c22"/><stop offset="0.7" stop-color="#7e261c"/><stop offset="0.85" stop-color="#d8361c"/><stop offset="1" stop-color="#ef4a22"/></linearGradient>
<linearGradient id="p1body" x1="0" y1="0" x2="1" y2="0"><stop offset="0" stop-color="#3f5f86"/><stop offset="0.55" stop-color="#5a6f96"/><stop offset="0.8" stop-color="#c8503a"/><stop offset="1" stop-color="#f06a2a"/></linearGradient>
</defs>
<rect width="216" height="132" fill="url(#p1sky)"/>
<rect width="216" height="132" fill="url(#p1skyh)"/>
<rect width="216" height="132" fill="url(#p1sun)"/>
<path d="M28,40 q14,-5 28,0 q-14,2 -28,0z M48,58 q14,-5 30,-1 q-16,3 -30,1z M20,68 q10,-3 22,0 q-12,2 -22,0z" fill="#bfe6e0" opacity="0.55"/>
<rect y="96" width="216" height="36" fill="url(#p1sea)"/>
<path d="M0,96 L4,93 L14,92 L24,90.5 L33,89.5 L44,90.5 L52,92.5 L62,94 L80,96 Z" fill="#2d5f86"/>
<path d="M0,98 L216,94 L216,97 L0,101Z" fill="#4f9ab0" opacity="0.5"/>
<!-- cables -->
<g fill="none" stroke="#39404a" stroke-width="1">
<path d="M0,111 L216,96" stroke="#54586a" opacity="0.8"/><path d="M0,117.2 L216,109.6"/><path d="M0,124.6 L216,123.8"/><path d="M0,105.5 L216,84" stroke="#6a5a5a" opacity="0.7"/>
</g>
<!-- posts -->
<path d="M55.5,82 L61.5,81 L63.5,132 L56.5,132 Z" fill="#3a2a20"/><path d="M59.5,82 L61.5,81 L63.5,132 L61,132 Z" fill="#7a5a30"/>
<path d="M0,92 L3.6,91 L4.6,132 L0,132 Z" fill="#6a4a28"/>
<path d="M160.6,66.5 L165.8,66 L174.6,132 L166,132 Z" fill="#241417"/><path d="M161.5,60 L163.4,60 L164.4,68 L161.8,68Z" fill="#7a2018"/>
<path d="M52,98 q-2,6 2,9" fill="none" stroke="#2a2a30" stroke-width="1.2"/>
<!-- rails -->
<path d="M0,88.4 L216,48.4 L216,52.8 L0,91.8 Z" fill="url(#p1rail)"/>
<path d="M0,102.4 L216,74.2 L216,77.8 L0,104.6 Z" fill="url(#p1rail2)"/>
<!-- runner -->
<g>
<path d="M124,84 C131,85 134,88 137,94 L149,109 C156,106 163,100 171,93.5 L175.5,98.5 C166,107 158,115 149.5,120.5 C146,121 143,118 140,114 L124,96 Z" fill="#17131a"/>
<path d="M106.5,84 L131,84 C130,97 124,104 119.5,112 L112,132 L99.5,132 L102,110 C102.5,100 104,92 106.5,84Z" fill="#15131a"/>
<path d="M168.5,88.5 C172,85 176,86.5 180,88.5 C188,90.5 196,93 200.5,97.5 C201.5,100.5 198,101.5 194,100.5 C188,101.5 182,102 177,100.5 C173,98.5 169.5,94.5 168.5,88.5Z" fill="#5a2a26"/>
<path d="M176,99.5 C182,101.5 190,101.5 197,100.5 L196,102.2 C190,103.2 182,103.2 176.5,101Z" fill="#b8a8a0"/>
<path d="M109.5,27 C114,24 121,25 124.5,28.5 C131,31 137.5,37 140.8,44 C141.6,47 139,50.5 136.5,53.5 L128,66.5 L131.5,83 C124,85.5 114,85.5 106.5,84.5 C104.5,72 101.5,58 103,46 C104,38 106,31 109.5,27Z" fill="url(#p1body)"/>
<path d="M127,33 C134,36 139,41 140.8,44.5 C141.4,47.5 138.5,51 136,54 L128.5,65.5 L124.5,62.5 L132.5,47.5 C131,42 129,37.5 127,33Z" fill="#e2532a"/>
<path d="M122,63 L129,66.5 L126,70.5 L119.5,67.5Z" fill="#c9d5e4"/>
<path d="M117,52 C119,60 121,70 124,78" fill="none" stroke="#a8c4e6" stroke-width="1.4" opacity="0.7"/>
<path d="M104,55 L93,58 C90.5,59 91,63 93.5,63.5 L105,66 Z" fill="#2a2430"/>
<path d="M91.5,57.5 L96,56.5 L97.5,64 L93,64.5 C90.5,63 90.5,59.5 91.5,57.5Z" fill="#20161a"/>
<ellipse cx="108.6" cy="18.6" rx="7.6" ry="9" fill="#2a1a20"/>
<path d="M101.3,17 C100.2,20.5 100.6,24 101.8,26.5 L105,28 L105,15Z" fill="#2a1a20"/>
<path d="M101.5,12.5 C105,8.5 112,8 116,11.5 C117.5,13 118,15 117.5,17 C112,13.5 106,13.5 101.5,16.5Z" fill="#5a1c1c"/><path d="M103,11.5 C106,8.8 112,8.4 115.6,11.2" fill="none" stroke="#c8402a" stroke-width="1"/>
<path d="M115,12.5 C118,9 121.5,6.5 125.5,7 C129.5,7.8 131,12 131,16.5 C131.2,18.5 130.2,19.5 129.2,17.5 C128.4,15 127.6,12.5 125.6,11.6 C122.5,11.5 120,13.8 118.2,16.5Z" fill="#8a2820"/>
<path d="M108,26 L116,26 L118,31 L108,31Z" fill="#2a1a20"/>
</g>
</svg>
<svg class="b" style="left:1070px;top:650px" width="216" height="133" preserveAspectRatio="none" viewBox="0 0 216 132">
<defs>
<linearGradient id="p2sky" x1="0" y1="0" x2="0" y2="1"><stop offset="0" stop-color="#ebd9ca"/><stop offset="0.25" stop-color="#e3d1c6"/><stop offset="0.45" stop-color="#d6c9c7"/><stop offset="0.56" stop-color="#bfc0c8"/><stop offset="0.7" stop-color="#9fa9a8"/><stop offset="1" stop-color="#74857c"/></linearGradient>
<linearGradient id="p2haze" x1="0" y1="0" x2="0" y2="1"><stop offset="0.28" stop-color="#d8cbc8" stop-opacity="0"/><stop offset="0.44" stop-color="#d2c8c8" stop-opacity="0.75"/><stop offset="0.56" stop-color="#c6c6cc" stop-opacity="0.3"/><stop offset="0.75" stop-color="#c3c6cb" stop-opacity="0"/></linearGradient>
<filter id="p2b" x="-5%" y="-5%" width="110%" height="110%"><feGaussianBlur stdDeviation="0.55"/></filter>
<clipPath id="p2c"><rect width="216" height="132"/></clipPath>
</defs>
<g clip-path="url(#p2c)">
<rect width="216" height="132" fill="url(#p2sky)"/>
<g filter="url(#p2b)"><rect x="-2.0" y="67.5" width="4.3" height="14.5" fill="#a3afbc"/><rect x="3.8" y="63.2" width="3.4" height="18.8" fill="#aab5c0"/><rect x="6.8" y="60.8" width="4.7" height="21.2" fill="#bac1c9"/><rect x="11.4" y="62.7" width="3.9" height="19.3" fill="#bac1c9"/><rect x="16.2" y="66.8" width="3.2" height="15.2" fill="#aab5c0"/><rect x="19.6" y="67.8" width="3.6" height="14.2" fill="#aab5c0"/><rect x="23.0" y="57.8" width="5.3" height="24.2" fill="#bac1c9"/><rect x="27.9" y="62.2" width="3.8" height="19.8" fill="#b3bcc6"/><rect x="32.4" y="65.4" width="6.7" height="16.6" fill="#aab5c0"/><rect x="40.3" y="63.3" width="4.0" height="18.7" fill="#b3bcc6"/><rect x="45.6" y="51.7" width="4.2" height="30.3" fill="#b3bcc6"/><rect x="49.7" y="68.6" width="5.0" height="13.4" fill="#bac1c9"/><rect x="55.6" y="65.9" width="6.5" height="16.1" fill="#bac1c9"/><rect x="62.8" y="61.7" width="6.2" height="20.3" fill="#a3afbc"/><rect x="68.6" y="62.5" width="5.8" height="19.5" fill="#9ba8b6"/><rect x="74.7" y="54.5" width="4.5" height="27.5" fill="#aab5c0"/><rect x="80.2" y="66.8" width="5.0" height="15.2" fill="#aab5c0"/><rect x="85.7" y="56.6" width="6.7" height="25.4" fill="#b3bcc6"/><rect x="94.1" y="60.4" width="6.3" height="21.6" fill="#9ba8b6"/><rect x="102.3" y="65.2" width="5.7" height="16.8" fill="#a3afbc"/><rect x="108.0" y="66.7" width="3.9" height="15.3" fill="#bac1c9"/><rect x="111.9" y="67.5" width="4.1" height="14.5" fill="#bac1c9"/><rect x="116.9" y="62.1" width="6.8" height="19.9" fill="#bac1c9"/><rect x="124.9" y="64.4" width="6.0" height="17.6" fill="#bac1c9"/><rect x="131.3" y="68.0" width="4.6" height="14.0" fill="#a3afbc"/><rect x="135.9" y="56.0" width="6.9" height="26.0" fill="#a3afbc"/><rect x="142.3" y="68.0" width="3.6" height="14.0" fill="#a3afbc"/><rect x="145.6" y="65.2" width="3.8" height="16.8" fill="#b3bcc6"/><rect x="150.4" y="67.8" width="4.9" height="14.2" fill="#9ba8b6"/><rect x="156.0" y="67.6" width="4.2" height="14.4" fill="#b3bcc6"/><rect x="161.0" y="53.1" width="5.8" height="28.9" fill="#b3bcc6"/><rect x="166.6" y="68.7" width="5.2" height="13.3" fill="#a3afbc"/><rect x="173.0" y="55.7" width="4.0" height="26.3" fill="#bac1c9"/><rect x="177.9" y="62.6" width="5.0" height="19.4" fill="#aab5c0"/><rect x="184.5" y="61.6" width="6.3" height="20.4" fill="#bac1c9"/><rect x="191.5" y="59.1" width="5.9" height="22.9" fill="#9ba8b6"/><rect x="197.5" y="59.4" width="5.8" height="22.6" fill="#b3bcc6"/><rect x="205.2" y="66.8" width="4.5" height="15.2" fill="#aab5c0"/><rect x="210.0" y="59.1" width="4.9" height="22.9" fill="#a3afbc"/><rect x="215.6" y="52.0" width="5.6" height="30.0" fill="#9ba8b6"/><ellipse cx="100.1" cy="120.5" rx="5.4" ry="3.0" fill="#5a6c60" opacity="0.9"/><ellipse cx="204.0" cy="84.7" rx="5.5" ry="2.3" fill="#55665a" opacity="0.9"/><ellipse cx="154.9" cy="131.1" rx="6.1" ry="1.5" fill="#44574d" opacity="0.9"/><ellipse cx="97.3" cy="111.9" rx="8.6" ry="2.6" fill="#66766a" opacity="0.9"/><ellipse cx="139.9" cy="132.9" rx="8.1" ry="2.5" fill="#44574d" opacity="0.9"/><ellipse cx="171.5" cy="81.2" rx="5.0" ry="1.5" fill="#55665a" opacity="0.9"/><ellipse cx="90.3" cy="130.4" rx="13.1" ry="3.1" fill="#44574d" opacity="0.9"/><ellipse cx="41.2" cy="81.5" rx="4.1" ry="3.0" fill="#5a6c60" opacity="0.9"/><ellipse cx="87.0" cy="94.0" rx="3.3" ry="3.3" fill="#5a6c60" opacity="0.9"/><ellipse cx="141.1" cy="128.5" rx="12.3" ry="2.4" fill="#66766a" opacity="0.9"/><ellipse cx="27.7" cy="87.1" rx="4.7" ry="3.2" fill="#44574d" opacity="0.9"/><ellipse cx="166.3" cy="112.9" rx="4.6" ry="1.6" fill="#66766a" opacity="0.9"/><ellipse cx="117.5" cy="119.2" rx="6.6" ry="2.4" fill="#66766a" opacity="0.9"/><ellipse cx="166.4" cy="106.1" rx="9.5" ry="1.4" fill="#44574d" opacity="0.9"/><ellipse cx="165.4" cy="95.0" rx="5.6" ry="2.5" fill="#4d6055" opacity="0.9"/><ellipse cx="130.0" cy="103.9" rx="6.5" ry="2.4" fill="#55665a" opacity="0.9"/><ellipse cx="106.8" cy="95.0" rx="7.3" ry="2.4" fill="#44574d" opacity="0.9"/><ellipse cx="188.6" cy="117.8" rx="11.8" ry="1.8" fill="#66766a" opacity="0.9"/><ellipse cx="39.0" cy="128.2" rx="8.6" ry="2.2" fill="#3f5047" opacity="0.9"/><ellipse cx="10.1" cy="103.9" rx="4.7" ry="1.4" fill="#55665a" opacity="0.9"/><ellipse cx="21.2" cy="96.4" rx="7.4" ry="3.4" fill="#55665a" opacity="0.9"/><ellipse cx="25.7" cy="115.7" rx="11.0" ry="3.4" fill="#44574d" opacity="0.9"/><ellipse cx="14.9" cy="120.3" rx="11.7" ry="1.6" fill="#55665a" opacity="0.9"/><ellipse cx="29.8" cy="125.0" rx="8.1" ry="2.4" fill="#5a6c60" opacity="0.9"/><ellipse cx="73.2" cy="102.7" rx="3.6" ry="2.1" fill="#5a6c60" opacity="0.9"/><ellipse cx="91.8" cy="109.9" rx="3.4" ry="2.0" fill="#66766a" opacity="0.9"/><ellipse cx="207.3" cy="96.0" rx="3.3" ry="3.3" fill="#44574d" opacity="0.9"/><ellipse cx="17.3" cy="132.5" rx="7.2" ry="1.3" fill="#44574d" opacity="0.9"/><ellipse cx="22.8" cy="94.6" rx="5.0" ry="3.3" fill="#5a6c60" opacity="0.9"/><ellipse cx="113.1" cy="101.9" rx="6.4" ry="2.4" fill="#5a6c60" opacity="0.9"/><ellipse cx="6.8" cy="84.8" rx="5.3" ry="2.2" fill="#4d6055" opacity="0.9"/><ellipse cx="-2.3" cy="94.5" rx="3.0" ry="1.8" fill="#66766a" opacity="0.9"/><ellipse cx="8.8" cy="126.2" rx="12.4" ry="2.3" fill="#5a6c60" opacity="0.9"/><ellipse cx="86.7" cy="133.7" rx="14.1" ry="2.6" fill="#4d6055" opacity="0.9"/><ellipse cx="46.9" cy="108.5" rx="4.0" ry="1.6" fill="#4d6055" opacity="0.9"/><ellipse cx="201.0" cy="89.8" rx="5.6" ry="2.4" fill="#44574d" opacity="0.9"/><ellipse cx="105.0" cy="95.7" rx="3.7" ry="2.0" fill="#4d6055" opacity="0.9"/><ellipse cx="2.2" cy="133.7" rx="4.7" ry="2.4" fill="#44574d" opacity="0.9"/><ellipse cx="48.5" cy="107.8" rx="6.5" ry="2.7" fill="#55665a" opacity="0.9"/><ellipse cx="103.9" cy="103.3" rx="8.7" ry="2.1" fill="#66766a" opacity="0.9"/><ellipse cx="41.8" cy="96.6" rx="4.0" ry="1.7" fill="#55665a" opacity="0.9"/><ellipse cx="25.0" cy="119.4" rx="12.5" ry="3.5" fill="#44574d" opacity="0.9"/><ellipse cx="132.8" cy="80.8" rx="5.6" ry="2.2" fill="#4d6055" opacity="0.9"/><ellipse cx="180.8" cy="84.6" rx="6.1" ry="2.8" fill="#5a6c60" opacity="0.9"/><ellipse cx="147.8" cy="112.3" rx="3.8" ry="1.7" fill="#5a6c60" opacity="0.9"/><ellipse cx="52.4" cy="104.1" rx="9.7" ry="3.4" fill="#66766a" opacity="0.9"/><ellipse cx="1.6" cy="97.5" rx="8.2" ry="1.7" fill="#44574d" opacity="0.9"/><ellipse cx="78.7" cy="80.1" rx="3.8" ry="2.4" fill="#44574d" opacity="0.9"/><ellipse cx="166.3" cy="93.4" rx="3.0" ry="3.1" fill="#44574d" opacity="0.9"/><ellipse cx="3.3" cy="101.6" rx="3.0" ry="1.9" fill="#44574d" opacity="0.9"/><ellipse cx="206.6" cy="84.6" rx="6.1" ry="1.6" fill="#55665a" opacity="0.9"/><ellipse cx="126.4" cy="122.3" rx="10.9" ry="2.9" fill="#3f5047" opacity="0.9"/><ellipse cx="154.8" cy="88.1" rx="5.5" ry="1.3" fill="#55665a" opacity="0.9"/><ellipse cx="133.3" cy="128.2" rx="11.4" ry="3.1" fill="#44574d" opacity="0.9"/><ellipse cx="161.1" cy="129.1" rx="9.9" ry="3.1" fill="#4d6055" opacity="0.9"/><ellipse cx="123.7" cy="124.6" rx="12.4" ry="2.8" fill="#55665a" opacity="0.9"/><ellipse cx="12.9" cy="114.7" rx="3.9" ry="2.7" fill="#4d6055" opacity="0.9"/><ellipse cx="94.2" cy="100.3" rx="3.2" ry="1.3" fill="#66766a" opacity="0.9"/><ellipse cx="102.6" cy="116.8" rx="3.7" ry="3.0" fill="#55665a" opacity="0.9"/><ellipse cx="193.3" cy="130.4" rx="5.2" ry="2.4" fill="#55665a" opacity="0.9"/><ellipse cx="50.0" cy="119.8" rx="4.4" ry="1.8" fill="#55665a" opacity="0.9"/><ellipse cx="45.2" cy="120.8" rx="9.7" ry="2.3" fill="#3f5047" opacity="0.9"/><ellipse cx="196.1" cy="84.1" rx="3.4" ry="1.4" fill="#55665a" opacity="0.9"/><ellipse cx="11.2" cy="114.7" rx="4.8" ry="1.8" fill="#55665a" opacity="0.9"/><ellipse cx="131.9" cy="117.4" rx="4.8" ry="2.3" fill="#3f5047" opacity="0.9"/><ellipse cx="143.2" cy="94.5" rx="6.6" ry="2.8" fill="#5a6c60" opacity="0.9"/><ellipse cx="57.4" cy="118.3" rx="7.8" ry="3.0" fill="#66766a" opacity="0.9"/><ellipse cx="211.1" cy="90.8" rx="7.4" ry="1.3" fill="#3f5047" opacity="0.9"/><ellipse cx="106.5" cy="84.1" rx="6.7" ry="3.5" fill="#3f5047" opacity="0.9"/><ellipse cx="203.9" cy="91.3" rx="3.5" ry="2.6" fill="#44574d" opacity="0.9"/><ellipse cx="52.1" cy="120.4" rx="7.0" ry="2.6" fill="#55665a" opacity="0.9"/><ellipse cx="190.9" cy="107.5" rx="8.4" ry="1.8" fill="#3f5047" opacity="0.9"/><ellipse cx="29.3" cy="101.3" rx="9.2" ry="2.8" fill="#3f5047" opacity="0.9"/><ellipse cx="25.2" cy="96.3" rx="4.7" ry="2.0" fill="#5a6c60" opacity="0.9"/><ellipse cx="160.7" cy="80.1" rx="5.3" ry="1.5" fill="#44574d" opacity="0.9"/><ellipse cx="194.1" cy="118.5" rx="6.2" ry="2.1" fill="#3f5047" opacity="0.9"/><ellipse cx="187.1" cy="101.1" rx="3.4" ry="3.3" fill="#5a6c60" opacity="0.9"/><ellipse cx="56.3" cy="126.1" rx="4.6" ry="2.7" fill="#55665a" opacity="0.9"/><ellipse cx="49.4" cy="130.5" rx="7.0" ry="2.4" fill="#44574d" opacity="0.9"/><ellipse cx="168.3" cy="121.8" rx="7.8" ry="1.3" fill="#55665a" opacity="0.9"/><ellipse cx="188.4" cy="101.6" rx="6.6" ry="1.7" fill="#4d6055" opacity="0.9"/><ellipse cx="156.6" cy="82.7" rx="4.0" ry="2.9" fill="#55665a" opacity="0.9"/><ellipse cx="101.8" cy="127.0" rx="13.0" ry="2.5" fill="#44574d" opacity="0.9"/><ellipse cx="70.3" cy="105.5" rx="5.2" ry="2.9" fill="#55665a" opacity="0.9"/><ellipse cx="139.6" cy="94.0" rx="4.3" ry="2.5" fill="#3f5047" opacity="0.9"/><ellipse cx="136.8" cy="86.5" rx="2.5" ry="2.4" fill="#3f5047" opacity="0.9"/><ellipse cx="94.6" cy="109.7" rx="5.8" ry="3.0" fill="#3f5047" opacity="0.9"/><ellipse cx="36.7" cy="87.5" rx="2.6" ry="2.0" fill="#4d6055" opacity="0.9"/><ellipse cx="75.8" cy="97.2" rx="7.7" ry="1.7" fill="#4d6055" opacity="0.9"/><ellipse cx="85.6" cy="120.5" rx="7.5" ry="2.4" fill="#3f5047" opacity="0.9"/><rect x="54.9" y="110.6" width="6.7" height="13.6" fill="#aab4bb"/><rect x="59.0" y="110.6" width="2.7" height="13.6" fill="#87939b" opacity="0.6"/><rect x="105.7" y="104.0" width="9.1" height="8.2" fill="#dcdfe0"/><rect x="79.8" y="104.9" width="6.3" height="9.7" fill="#c9cfd3"/><rect x="83.6" y="104.9" width="2.5" height="9.7" fill="#87939b" opacity="0.6"/><rect x="88.7" y="111.2" width="8.7" height="19.5" fill="#e2e4e4"/><rect x="93.9" y="111.2" width="3.5" height="19.5" fill="#87939b" opacity="0.6"/><rect x="81.4" y="120.0" width="8.9" height="17.8" fill="#e2e4e4"/><rect x="86.7" y="120.0" width="3.5" height="17.8" fill="#87939b" opacity="0.6"/><rect x="19.8" y="78.3" width="6.9" height="15.2" fill="#e2e4e4"/><rect x="23.9" y="78.3" width="2.8" height="15.2" fill="#87939b" opacity="0.6"/><rect x="165.4" y="70.1" width="4.3" height="13.5" fill="#c9cfd3"/><rect x="62.2" y="76.9" width="5.1" height="14.5" fill="#d3d8db"/><rect x="65.3" y="76.9" width="2.1" height="14.5" fill="#87939b" opacity="0.6"/><rect x="61.5" y="121.0" width="4.7" height="8.9" fill="#c9cfd3"/><rect x="64.3" y="121.0" width="1.9" height="8.9" fill="#87939b" opacity="0.6"/><rect x="61.7" y="94.9" width="9.7" height="14.7" fill="#bfc6cb"/><rect x="67.6" y="94.9" width="3.9" height="14.7" fill="#87939b" opacity="0.6"/><rect x="47.2" y="83.3" width="9.7" height="15.6" fill="#dcdfe0"/><rect x="53.0" y="83.3" width="3.9" height="15.6" fill="#87939b" opacity="0.6"/><rect x="38.3" y="117.8" width="7.7" height="6.2" fill="#bfc6cb"/><rect x="197.7" y="82.2" width="3.7" height="10.1" fill="#9aa6ad"/><rect x="199.9" y="82.2" width="1.5" height="10.1" fill="#87939b" opacity="0.6"/><rect x="82.4" y="70.4" width="5.4" height="17.7" fill="#d3d8db"/><rect x="85.6" y="70.4" width="2.2" height="17.7" fill="#87939b" opacity="0.6"/><rect x="207.4" y="86.8" width="8.8" height="8.5" fill="#bfc6cb"/><rect x="212.7" y="86.8" width="3.5" height="8.5" fill="#87939b" opacity="0.6"/><rect x="189.9" y="75.9" width="7.6" height="14.2" fill="#bfc6cb"/><rect x="194.4" y="75.9" width="3.0" height="14.2" fill="#87939b" opacity="0.6"/><rect x="194.5" y="73.0" width="7.4" height="18.8" fill="#c9cfd3"/><rect x="198.9" y="73.0" width="2.9" height="18.8" fill="#87939b" opacity="0.6"/><rect x="208.4" y="77.7" width="3.8" height="5.9" fill="#9aa6ad"/><rect x="210.7" y="77.7" width="1.5" height="5.9" fill="#87939b" opacity="0.6"/><rect x="151.2" y="87.0" width="4.2" height="6.2" fill="#b4bdc4"/><rect x="153.8" y="87.0" width="1.7" height="6.2" fill="#87939b" opacity="0.6"/><rect x="36.4" y="120.5" width="8.4" height="5.5" fill="#9aa6ad"/><rect x="210.7" y="93.9" width="4.2" height="6.2" fill="#d3d8db"/><rect x="213.3" y="93.9" width="1.7" height="6.2" fill="#87939b" opacity="0.6"/><rect x="204.3" y="76.7" width="9.8" height="8.1" fill="#aab4bb"/><rect x="63.3" y="113.4" width="4.1" height="15.6" fill="#bfc6cb"/><rect x="65.7" y="113.4" width="1.6" height="15.6" fill="#87939b" opacity="0.6"/><rect x="196.5" y="80.4" width="5.9" height="18.5" fill="#c9cfd3"/><rect x="50.1" y="103.8" width="6.1" height="10.6" fill="#e2e4e4"/><rect x="53.7" y="103.8" width="2.5" height="10.6" fill="#87939b" opacity="0.6"/><rect x="196.6" y="83.9" width="8.4" height="18.5" fill="#aab4bb"/><rect x="201.6" y="83.9" width="3.3" height="18.5" fill="#87939b" opacity="0.6"/><rect x="69.0" y="121.5" width="3.8" height="16.2" fill="#aab4bb"/><rect x="60.8" y="109.0" width="7.4" height="17.1" fill="#d3d8db"/><rect x="65.3" y="109.0" width="2.9" height="17.1" fill="#87939b" opacity="0.6"/><rect x="47.0" y="95.7" width="9.7" height="19.3" fill="#9aa6ad"/><rect x="195.2" y="114.0" width="4.4" height="12.4" fill="#c9cfd3"/><rect x="157.0" y="114.4" width="8.5" height="14.1" fill="#aab4bb"/><rect x="96.5" y="112.3" width="7.4" height="12.7" fill="#9aa6ad"/><rect x="49.9" y="73.5" width="3.7" height="13.3" fill="#aab4bb"/><rect x="52.1" y="73.5" width="1.5" height="13.3" fill="#87939b" opacity="0.6"/><rect x="89.0" y="75.7" width="4.0" height="14.4" fill="#bfc6cb"/><rect x="91.4" y="75.7" width="1.6" height="14.4" fill="#87939b" opacity="0.6"/><rect x="104.7" y="108.3" width="6.4" height="8.5" fill="#9aa6ad"/><rect x="108.5" y="108.3" width="2.6" height="8.5" fill="#87939b" opacity="0.6"/><rect x="190.3" y="82.7" width="7.0" height="16.6" fill="#d3d8db"/><rect x="60.1" y="85.1" width="5.2" height="8.8" fill="#dcdfe0"/><rect x="63.2" y="85.1" width="2.1" height="8.8" fill="#87939b" opacity="0.6"/><rect x="49.9" y="83.2" width="4.5" height="18.3" fill="#bfc6cb"/><rect x="52.6" y="83.2" width="1.8" height="18.3" fill="#87939b" opacity="0.6"/><rect x="82.3" y="123.6" width="6.8" height="8.5" fill="#d3d8db"/><rect x="212.0" y="75.5" width="6.6" height="17.3" fill="#e2e4e4"/><rect x="4.8" y="85.9" width="4.3" height="7.8" fill="#bfc6cb"/><rect x="77.1" y="116.8" width="6.4" height="8.9" fill="#c9cfd3"/><rect x="81.0" y="116.8" width="2.6" height="8.9" fill="#87939b" opacity="0.6"/><rect x="126.0" y="103.5" width="4.9" height="10.5" fill="#b4bdc4"/><rect x="128.9" y="103.5" width="2.0" height="10.5" fill="#87939b" opacity="0.6"/><rect x="214.0" y="72.1" width="8.3" height="18.7" fill="#c9cfd3"/><rect x="85.2" y="90.1" width="7.5" height="6.2" fill="#c9cfd3"/><rect x="115.5" y="73.4" width="4.2" height="10.9" fill="#b4bdc4"/><rect x="15.9" y="78.8" width="8.0" height="11.1" fill="#dcdfe0"/><rect x="87.1" y="72.8" width="8.3" height="18.3" fill="#9aa6ad"/><rect x="92.1" y="72.8" width="3.3" height="18.3" fill="#87939b" opacity="0.6"/><rect x="184.4" y="123.8" width="5.9" height="8.0" fill="#9aa6ad"/><rect x="187.9" y="123.8" width="2.3" height="8.0" fill="#87939b" opacity="0.6"/><rect x="-2.7" y="118.7" width="6.3" height="17.3" fill="#9aa6ad"/><rect x="1.0" y="118.7" width="2.5" height="17.3" fill="#87939b" opacity="0.6"/><rect x="75.5" y="111.7" width="4.3" height="5.8" fill="#b4bdc4"/><rect x="194.3" y="74.8" width="7.5" height="10.6" fill="#b4bdc4"/><rect x="198.9" y="74.8" width="3.0" height="10.6" fill="#87939b" opacity="0.6"/><rect x="57.8" y="98.1" width="9.5" height="6.6" fill="#e2e4e4"/><rect x="168.7" y="113.5" width="5.5" height="17.6" fill="#c9cfd3"/><rect x="101.2" y="72.9" width="9.5" height="10.8" fill="#b4bdc4"/><rect x="182.7" y="103.5" width="7.5" height="7.9" fill="#e2e4e4"/><rect x="187.2" y="103.5" width="3.0" height="7.9" fill="#87939b" opacity="0.6"/><rect x="43.6" y="91.6" width="6.9" height="10.8" fill="#d3d8db"/><rect x="47.7" y="91.6" width="2.7" height="10.8" fill="#87939b" opacity="0.6"/><rect x="207.6" y="114.0" width="4.8" height="18.3" fill="#c9cfd3"/><rect x="66.7" y="91.1" width="6.5" height="17.7" fill="#dcdfe0"/><rect x="63.2" y="83.5" width="6.0" height="10.5" fill="#e2e4e4"/><rect x="66.8" y="83.5" width="2.4" height="10.5" fill="#87939b" opacity="0.6"/><rect x="-3.2" y="123.3" width="6.5" height="11.7" fill="#e2e4e4"/><rect x="172.7" y="91.6" width="3.9" height="10.4" fill="#aab4bb"/><rect x="175.1" y="91.6" width="1.6" height="10.4" fill="#87939b" opacity="0.6"/><rect x="92.3" y="97.5" width="3.8" height="14.5" fill="#d3d8db"/><rect x="64.4" y="108.9" width="4.0" height="16.3" fill="#9aa6ad"/><rect x="167.0" y="71.4" width="3.9" height="14.2" fill="#d3d8db"/><rect x="169.3" y="71.4" width="1.6" height="14.2" fill="#87939b" opacity="0.6"/><rect x="210.0" y="96.6" width="9.7" height="18.7" fill="#b4bdc4"/><rect x="153.2" y="81.9" width="8.9" height="14.2" fill="#dcdfe0"/><rect x="158.5" y="81.9" width="3.6" height="14.2" fill="#87939b" opacity="0.6"/><rect x="191.4" y="84.8" width="8.8" height="7.2" fill="#e2e4e4"/><rect x="196.7" y="84.8" width="3.5" height="7.2" fill="#87939b" opacity="0.6"/><rect x="53.3" y="97.3" width="5.6" height="5.6" fill="#b4bdc4"/><rect x="56.6" y="97.3" width="2.2" height="5.6" fill="#87939b" opacity="0.6"/><rect x="134.8" y="85.0" width="5.6" height="10.7" fill="#dcdfe0"/><rect x="138.2" y="85.0" width="2.3" height="10.7" fill="#87939b" opacity="0.6"/><rect x="111.7" y="104.4" width="5.8" height="18.1" fill="#d3d8db"/><rect x="115.2" y="104.4" width="2.3" height="18.1" fill="#87939b" opacity="0.6"/><rect x="112.8" y="116.3" width="8.3" height="10.6" fill="#9aa6ad"/><rect x="121.9" y="89.5" width="8.5" height="11.6" fill="#b4bdc4"/><rect x="204.8" y="86.0" width="6.9" height="9.7" fill="#aab4bb"/><rect x="158.9" y="82.0" width="5.4" height="14.4" fill="#9aa6ad"/><rect x="162.1" y="82.0" width="2.2" height="14.4" fill="#87939b" opacity="0.6"/><rect x="191.2" y="77.1" width="5.0" height="14.8" fill="#c9cfd3"/><rect x="194.2" y="77.1" width="2.0" height="14.8" fill="#87939b" opacity="0.6"/><rect x="119.6" y="86.4" width="6.9" height="13.0" fill="#9aa6ad"/><rect x="123.8" y="86.4" width="2.8" height="13.0" fill="#87939b" opacity="0.6"/><rect x="124.4" y="81.0" width="7.6" height="12.1" fill="#b4bdc4"/><rect x="129.0" y="81.0" width="3.0" height="12.1" fill="#87939b" opacity="0.6"/><rect x="170.7" y="108.2" width="6.4" height="6.0" fill="#b4bdc4"/><rect x="166.5" y="91.7" width="5.2" height="5.2" fill="#aab4bb"/><rect x="169.6" y="91.7" width="2.1" height="5.2" fill="#87939b" opacity="0.6"/><rect x="122.1" y="102.5" width="6.9" height="12.4" fill="#b4bdc4"/><rect x="5.6" y="98.7" width="6.1" height="8.6" fill="#c9cfd3"/><rect x="18.9" y="103.1" width="7.8" height="8.0" fill="#9aa6ad"/><rect x="23.5" y="103.1" width="3.1" height="8.0" fill="#87939b" opacity="0.6"/><rect x="128.6" y="97.4" width="7.7" height="17.2" fill="#b4bdc4"/><rect x="133.2" y="97.4" width="3.1" height="17.2" fill="#87939b" opacity="0.6"/><rect x="9.9" y="103.8" width="10.0" height="15.9" fill="#e2e4e4"/><rect x="-2.6" y="115.6" width="8.3" height="12.0" fill="#e2e4e4"/><rect x="2.4" y="115.6" width="3.3" height="12.0" fill="#87939b" opacity="0.6"/><rect x="213.3" y="84.1" width="7.7" height="6.8" fill="#dcdfe0"/><rect x="54.0" y="99.9" width="6.3" height="16.8" fill="#dcdfe0"/><rect x="57.8" y="99.9" width="2.5" height="16.8" fill="#87939b" opacity="0.6"/><rect x="198.4" y="118.3" width="4.1" height="12.6" fill="#b4bdc4"/><rect x="200.9" y="118.3" width="1.6" height="12.6" fill="#87939b" opacity="0.6"/><rect x="47.5" y="110.2" width="9.6" height="16.2" fill="#aab4bb"/><rect x="53.3" y="110.2" width="3.9" height="16.2" fill="#87939b" opacity="0.6"/><rect x="80.7" y="102.5" width="6.0" height="17.8" fill="#e2e4e4"/><rect x="84.3" y="102.5" width="2.4" height="17.8" fill="#87939b" opacity="0.6"/><rect x="111.7" y="70.3" width="3.7" height="19.3" fill="#bfc6cb"/><rect x="113.9" y="70.3" width="1.5" height="19.3" fill="#87939b" opacity="0.6"/><rect x="63.1" y="81.4" width="7.5" height="6.2" fill="#b4bdc4"/><rect x="67.6" y="81.4" width="3.0" height="6.2" fill="#87939b" opacity="0.6"/><rect x="1.9" y="75.8" width="9.5" height="10.2" fill="#b4bdc4"/><rect x="2.7" y="77.5" width="7.7" height="5.6" fill="#d3d8db"/><ellipse cx="125.9" cy="94.6" rx="3.5" ry="2.0" fill="#485a50" opacity="0.85"/><ellipse cx="192.1" cy="124.8" rx="2.3" ry="2.1" fill="#485a50" opacity="0.85"/><ellipse cx="203.8" cy="128.6" rx="2.4" ry="1.3" fill="#485a50" opacity="0.85"/><ellipse cx="3.6" cy="96.5" rx="5.4" ry="2.0" fill="#485a50" opacity="0.85"/><ellipse cx="177.5" cy="117.4" rx="4.5" ry="1.4" fill="#485a50" opacity="0.85"/><ellipse cx="17.5" cy="96.0" rx="5.0" ry="1.3" fill="#485a50" opacity="0.85"/><ellipse cx="89.2" cy="104.8" rx="2.1" ry="1.3" fill="#485a50" opacity="0.85"/><ellipse cx="153.5" cy="103.3" rx="3.5" ry="1.4" fill="#485a50" opacity="0.85"/><ellipse cx="106.8" cy="130.6" rx="5.4" ry="1.8" fill="#485a50" opacity="0.85"/><ellipse cx="86.8" cy="93.2" rx="3.7" ry="2.0" fill="#485a50" opacity="0.85"/><ellipse cx="151.0" cy="105.9" rx="4.2" ry="1.3" fill="#485a50" opacity="0.85"/><ellipse cx="16.0" cy="126.5" rx="5.3" ry="1.2" fill="#485a50" opacity="0.85"/><ellipse cx="40.4" cy="92.1" rx="5.0" ry="2.2" fill="#485a50" opacity="0.85"/><ellipse cx="104.0" cy="92.2" rx="4.0" ry="2.0" fill="#485a50" opacity="0.85"/><ellipse cx="104.8" cy="99.4" rx="3.4" ry="2.0" fill="#485a50" opacity="0.85"/><ellipse cx="203.7" cy="102.4" rx="3.1" ry="1.3" fill="#485a50" opacity="0.85"/><ellipse cx="105.6" cy="120.0" rx="2.4" ry="1.8" fill="#485a50" opacity="0.85"/><ellipse cx="169.3" cy="95.2" rx="4.8" ry="2.0" fill="#485a50" opacity="0.85"/><ellipse cx="74.2" cy="117.1" rx="3.6" ry="1.5" fill="#485a50" opacity="0.85"/><ellipse cx="15.0" cy="127.6" rx="5.6" ry="1.0" fill="#485a50" opacity="0.85"/><ellipse cx="53.9" cy="100.2" rx="5.6" ry="1.6" fill="#485a50" opacity="0.85"/><ellipse cx="190.5" cy="107.2" rx="2.9" ry="1.6" fill="#485a50" opacity="0.85"/><ellipse cx="162.0" cy="113.3" rx="5.0" ry="1.8" fill="#485a50" opacity="0.85"/><ellipse cx="67.9" cy="105.9" rx="2.6" ry="2.1" fill="#485a50" opacity="0.85"/><ellipse cx="159.2" cy="118.5" rx="2.7" ry="1.5" fill="#485a50" opacity="0.85"/><ellipse cx="123.4" cy="122.9" rx="2.5" ry="1.6" fill="#485a50" opacity="0.85"/><ellipse cx="48.3" cy="127.4" rx="2.8" ry="1.4" fill="#485a50" opacity="0.85"/><ellipse cx="181.6" cy="120.1" rx="2.6" ry="1.2" fill="#485a50" opacity="0.85"/><ellipse cx="67.8" cy="101.9" rx="4.1" ry="1.2" fill="#485a50" opacity="0.85"/><ellipse cx="37.6" cy="105.1" rx="5.9" ry="1.9" fill="#485a50" opacity="0.85"/><ellipse cx="207.7" cy="96.1" rx="2.4" ry="1.5" fill="#485a50" opacity="0.85"/><ellipse cx="170.9" cy="131.4" rx="4.9" ry="1.5" fill="#485a50" opacity="0.85"/><ellipse cx="136.4" cy="99.8" rx="2.4" ry="1.3" fill="#485a50" opacity="0.85"/><ellipse cx="3.5" cy="107.5" rx="3.6" ry="2.0" fill="#485a50" opacity="0.85"/><ellipse cx="106.1" cy="119.7" rx="4.5" ry="1.6" fill="#485a50" opacity="0.85"/><ellipse cx="128.8" cy="97.7" rx="3.6" ry="1.9" fill="#485a50" opacity="0.85"/><ellipse cx="90.6" cy="128.3" rx="4.3" ry="1.9" fill="#485a50" opacity="0.85"/><ellipse cx="46.3" cy="108.8" rx="4.9" ry="2.1" fill="#485a50" opacity="0.85"/><ellipse cx="150.0" cy="123.0" rx="5.4" ry="1.8" fill="#485a50" opacity="0.85"/><ellipse cx="95.9" cy="117.7" rx="3.3" ry="1.8" fill="#485a50" opacity="0.85"/><rect x="17" y="80" width="13" height="36" fill="#e1e3e3"/><rect x="25.5" y="80" width="4.5" height="36" fill="#9aa5ab"/><rect x="30" y="96" width="6" height="20" fill="#e1e3e3"/><rect x="33.9" y="96" width="2.1" height="20" fill="#9aa5ab"/><rect x="0" y="96" width="8" height="10" fill="#e1e3e3"/><rect x="5.2" y="96" width="2.8" height="10" fill="#9aa5ab"/><rect x="51" y="98" width="9" height="14" fill="#e1e3e3"/><rect x="56.9" y="98" width="3.1" height="14" fill="#9aa5ab"/><rect x="44" y="84" width="7" height="14" fill="#e1e3e3"/><rect x="48.5" y="84" width="2.4" height="14" fill="#9aa5ab"/><rect x="157" y="96" width="18" height="24" fill="#e1e3e3"/><rect x="168.7" y="96" width="6.3" height="24" fill="#9aa5ab"/><rect x="160" y="90" width="7" height="8" fill="#e1e3e3"/><rect x="164.6" y="90" width="2.4" height="8" fill="#9aa5ab"/><rect x="176" y="108" width="17" height="14" fill="#e1e3e3"/><rect x="187.1" y="108" width="5.9" height="14" fill="#9aa5ab"/><rect x="128" y="102" width="12" height="6" fill="#e1e3e3"/><rect x="135.8" y="102" width="4.2" height="6" fill="#9aa5ab"/><rect x="196" y="100" width="10" height="8" fill="#e1e3e3"/><rect x="202.5" y="100" width="3.5" height="8" fill="#9aa5ab"/><rect x="207" y="100" width="9" height="14" fill="#e1e3e3"/><rect x="212.8" y="100" width="3.1" height="14" fill="#9aa5ab"/><rect x="58" y="72" width="9" height="12" fill="#e1e3e3"/><rect x="63.9" y="72" width="3.1" height="12" fill="#9aa5ab"/><rect x="66" y="76" width="6" height="20" fill="#e1e3e3"/><rect x="69.9" y="76" width="2.1" height="20" fill="#9aa5ab"/><rect x="138" y="120" width="20" height="12" fill="#e1e3e3"/><rect x="151.0" y="120" width="7.0" height="12" fill="#9aa5ab"/><rect x="0" y="126" width="36" height="6" fill="#e1e3e3"/><rect x="23.4" y="126" width="12.6" height="6" fill="#9aa5ab"/><rect x="36" y="100" width="8" height="12" fill="#e1e3e3"/><rect x="41.2" y="100" width="2.8" height="12" fill="#9aa5ab"/><rect x="151" y="71" width="11" height="19" fill="#8f7f7c"/><rect x="151" y="71" width="11" height="2" fill="#c8a8a0"/><rect x="158" y="73" width="4" height="17" fill="#6f6364"/></g>
<rect width="216" height="132" fill="url(#p2haze)"/>
<!-- woman -->
<path d="M52.5,132 C53.5,118 55.5,107.5 63,104 C72,100.5 82,98 88,95 L102,95 C110,99 119,101.5 126,105.5 C132,109 133,120 133.5,132 Z" fill="#c48f6e"/>
<path d="M63.5,132 C64,120 66,110 70.5,105 L115,105 C119,111 121,121 121.5,132 Z" fill="#3a2f33"/>
<path d="M86,76 L104,76 L104,98 L86,98 Z" fill="#c99a7a"/>
<path d="M79.5,70 C78.5,62 80,52 86,47.5 C91,44 100,44 105,47.5 C111,52 112.5,62 111.5,70 C110.5,78 104,84 95.5,84 C87,84 80.5,78 79.5,70Z" fill="#b59a66"/>
<path d="M84,66 C84,60 89,56.5 95.5,56.5 C102,56.5 107,60 107,66 C107,72 102,76 95.5,76 C89,76 84,72 84,66Z" fill="#c9b27c"/>
<path d="M88,50 C92,47 99,47 103,50 M86,58 C90,54 101,54 105,58 M90,64 C93,61 98,61 101,64 M89,70 C93,73 98,73 102,70" fill="none" stroke="#8a7040" stroke-width="1" opacity="0.7"/>
<path d="M104,46 C108,44 112,44.5 114.5,46.5 M82,52 C80,50 79.5,47 81,45" fill="none" stroke="#b59a66" stroke-width="0.8"/>
<path d="M80.5,72 C80,76 81.5,80 84,81 L84,74Z M110.8,72 C111.4,76 110,80 107.5,81 L107.5,74Z" fill="#c99a7a"/>
<!-- scarf -->
<path d="M78,90 C84,86.5 96,88.5 104,89.5 C110,90 114,88 117,85 C123,78 126,66 133,58 C140,50 150,46.5 163,46 C176,45.5 190,48.5 200,46 C206,44 212,41 216,38.5 L216,52 C212,55 206,58 198,59.5 C186,62 172,58.5 160,59.5 C151,60.5 145,65 141,72 C136,81 132,91 124,97 C119,100.5 112,101 106,100.5 L122,110 C124,116 118,124 110,127 C100,130.5 88,128 81,121 C74,114 68,104 70,98 C71.5,94 74,92 78,90Z" fill="#f06a16"/>
<path d="M121,112 C128,116 138,122 146,128 L157,132 L133,132 C128,126 123,120 119,116Z" fill="#f06a16"/>
<path d="M84,98 C92,102 103,103 112,101 C108,108 103,116 98,123 C92,116 86,107 84,98Z" fill="#e85c0c"/>
<path d="M80,92 C90,90 102,92 112,95 M125,92 C131,84 135,72 142,64 C149,57 160,55 172,55.5 C184,56 196,55 206,50" fill="none" stroke="#ff8a3a" stroke-width="1.6" opacity="0.75"/>
<path d="M200,46 L216,33 L216,37 L204,48 M203,56 L216,47 L216,51 L206,58" fill="none" stroke="#f06a16" stroke-width="1.3"/>
</g>
</svg>
<svg class="b" style="left:843px;top:791px" width="216" height="133" preserveAspectRatio="none" viewBox="0 0 216 132">
<defs>
<linearGradient id="p3sky" x1="0" y1="0" x2="0" y2="1"><stop offset="0" stop-color="#6f9fd2"/><stop offset="0.6" stop-color="#9dbfe2"/><stop offset="1" stop-color="#cfe0ef"/></linearGradient>
<linearGradient id="p3sea" x1="0" y1="0" x2="0" y2="1"><stop offset="0" stop-color="#3a8fc0"/><stop offset="0.1" stop-color="#52bdd4"/><stop offset="0.4" stop-color="#86e0e0"/><stop offset="0.78" stop-color="#bdeee6"/><stop offset="1" stop-color="#eaf6ee"/></linearGradient>
<linearGradient id="p3sand" x1="0" y1="0" x2="0" y2="1"><stop offset="0" stop-color="#f6f1e6"/><stop offset="0.5" stop-color="#f0e8d8"/><stop offset="1" stop-color="#e6dac6"/></linearGradient>
<filter id="p3b" x="-10%" y="-20%" width="120%" height="140%"><feGaussianBlur stdDeviation="2.2"/></filter>
<clipPath id="p3c"><rect width="216" height="132"/></clipPath>
</defs>
<g clip-path="url(#p3c)">
<rect width="216" height="46" fill="url(#p3sky)"/>
<g filter="url(#p3b)"><ellipse cx="30" cy="10.2" rx="23.9" ry="5.6" fill="#b9c9dc" opacity="0.50"/><ellipse cx="30" cy="8" rx="26" ry="7" fill="#fff" opacity="0.76"/><ellipse cx="70" cy="16.2" rx="31.3" ry="7.2" fill="#b9c9dc" opacity="0.52"/><ellipse cx="70" cy="14" rx="34" ry="9" fill="#fff" opacity="0.81"/><ellipse cx="120" cy="10.2" rx="27.6" ry="6.4" fill="#b9c9dc" opacity="0.50"/><ellipse cx="120" cy="8" rx="30" ry="8" fill="#fff" opacity="0.76"/><ellipse cx="165" cy="18.2" rx="33.1" ry="8.0" fill="#b9c9dc" opacity="0.52"/><ellipse cx="165" cy="16" rx="36" ry="10" fill="#fff" opacity="0.81"/><ellipse cx="200" cy="32.2" rx="23.9" ry="6.4" fill="#b9c9dc" opacity="0.50"/><ellipse cx="200" cy="30" rx="26" ry="8" fill="#fff" opacity="0.76"/><ellipse cx="20" cy="32.2" rx="23.9" ry="6.4" fill="#b9c9dc" opacity="0.50"/><ellipse cx="20" cy="30" rx="26" ry="8" fill="#fff" opacity="0.76"/><ellipse cx="60" cy="34.2" rx="27.6" ry="5.6" fill="#b9c9dc" opacity="0.47"/><ellipse cx="60" cy="32" rx="30" ry="7" fill="#fff" opacity="0.71"/><ellipse cx="110" cy="30.2" rx="31.3" ry="6.4" fill="#b9c9dc" opacity="0.50"/><ellipse cx="110" cy="28" rx="34" ry="8" fill="#fff" opacity="0.76"/><ellipse cx="150" cy="36.2" rx="27.6" ry="4.8" fill="#b9c9dc" opacity="0.47"/><ellipse cx="150" cy="34" rx="30" ry="6" fill="#fff" opacity="0.71"/><ellipse cx="95" cy="20.2" rx="20.2" ry="5.6" fill="#b9c9dc" opacity="0.50"/><ellipse cx="95" cy="18" rx="22" ry="7" fill="#fff" opacity="0.76"/><ellipse cx="190" cy="8.2" rx="23.9" ry="4.0" fill="#b9c9dc" opacity="0.44"/><ellipse cx="190" cy="6" rx="26" ry="5" fill="#fff" opacity="0.66"/><ellipse cx="5" cy="20.2" rx="12.9" ry="4.8" fill="#b9c9dc" opacity="0.44"/><ellipse cx="5" cy="18" rx="14" ry="6" fill="#fff" opacity="0.66"/></g>
<rect y="43.4" width="216" height="38" fill="url(#p3sea)"/>
<rect y="43.2" width="216" height="1.6" fill="#2a78ac"/>
<rect y="79" width="216" height="53" fill="url(#p3sand)"/>
<path d="M0,79 Q60,76 110,79 T216,78 L216,83 L0,84Z" fill="#f9f7f0"/>
<path d="M0,40 L7,40 L8,46 L0,46Z" fill="#5f7f9a"/><path d="M207,36 L216,32 L216,46 L210,46 L210,40 L207,40Z" fill="#6a4a3a"/>
<!-- shadows on sand -->
<path d="M28,122 L100,118 L104,132 L30,132Z M120,122 L192,118 L200,132 L122,132Z" fill="#b8a890" opacity="0.55"/>
<path d="M56,100 L96,100 L97,124 L30,124Z M124,100 L170,100 L188,124 L122,124Z" fill="#6f5a48" opacity="0.55"/>
<!-- left chair -->
<path d="M38,52.5 C48,50 60,50.5 66,51 L76,51 C86,51 98,52 107,54.5 C109,58 104,64 99,67 L93,58 L50,58 L44,60 C40,58 37,55 38,52.5Z" fill="#a5653e"/>
<ellipse cx="71.5" cy="43.6" rx="7.6" ry="6.6" fill="#2c2422"/>
<path d="M63.5,47 C66,45 77,45 80,47.5 C81,52 78,55.5 72,56 C66,56 62.5,52 63.5,47Z" fill="#9a5a38"/>
<path d="M46,58 L96,58 L92.5,97 L59.5,95 Z" fill="#d9caa8"/>
<path d="M58,72 C64,66 80,66 88,72 C90,82 88,92 84,97 L62,96 C58,90 56,80 58,72Z" fill="#c8b48c" opacity="0.75"/>
<path d="M45,57 L97,57 L97,60.5 L45,60.5Z" fill="#7e411d"/>
<path d="M45,58 L48.5,58 L62,97 L58.5,97Z M93.5,58 L97,58 L94.5,128 L91.5,128Z" fill="#7e411d"/>
<path d="M58,96 L54,103 L30,124 L33,127 L60,104 L63,97Z" fill="#74391a"/>
<path d="M44,104 L96,104 L96,107 L44,107Z M38,111.5 L96,111.5 L96,114.5 L38,114.5Z M30,119.5 L98,119.5 L98,123 L30,123Z" fill="#7e411d"/>
<path d="M33,123 L37,123 L35.5,132 L32,132Z M96,100 L99,100 L99.5,132 L96.5,132Z" fill="#643216"/>
<!-- snorkel -->
<path d="M40,62 C44,60 50,60 54,62 C52,70 50,76 46,78 C42,76 40,70 40,62Z" fill="none" stroke="#5a6a7a" stroke-width="1.6"/>
<path d="M33,77 L41,62 L43.5,63.5 L36,78Z" fill="#f2c318"/><path d="M33,77 L36,78 L35,80.5 L32,79.5Z" fill="#e0521a"/><path d="M52,60 L58,58.5 L59,61 L53,63Z" fill="#e6d21a"/>
<!-- right chair -->
<path d="M115.5,54.5 C126,52 138,56 146,57 L154,57 C162,56 176,50 183,47.5 C186,50 184,54 180,56 L160,62 L134,62 L122,60 C118,59 115,57 115.5,54.5Z" fill="#b87448"/>
<ellipse cx="149.2" cy="43.4" rx="19.4" ry="18.6" fill="#b48a52"/>
<ellipse cx="149.2" cy="43.4" rx="15.4" ry="14.6" fill="none" stroke="#9a7240" stroke-width="1" opacity="0.8"/>
<ellipse cx="149.2" cy="47" rx="9.2" ry="8.6" fill="#e3cd94"/>
<path d="M129.5,58 L130.5,62 L168,62 L169,58Z" fill="#eef2f2"/>
<path d="M140,57 C144,55 154,55 158,57.5 C158,61 154,63 149,63 C144,63 140,61 140,57Z" fill="#b06a42"/>
<path d="M128,58 L177,58 L167,98.5 L131.5,95.5 Z" fill="#dccfb0"/>
<path d="M138,70 C144,64 156,64 162,70 C160,78 158,82 159,88 C160,92 156,96 150,96 C142,96 136,92 136,86 C138,82 138,76 138,70Z" fill="#c9a27a" opacity="0.8"/>
<path d="M135,90 C142,95 154,95 160,90 L158,96 L138,96Z" fill="#e48a9a" opacity="0.8"/>
<path d="M126.5,57 L178,57 L178,60.5 L126.5,60.5Z" fill="#7e411d"/>
<path d="M126.5,58 L130,58 L133,97 L130,97Z M174.5,58 L178,58 L167.5,99 L164.5,98Z" fill="#7e411d"/>
<path d="M167,97 L170,97 L190,126 L186,127Z" fill="#74391a"/>
<path d="M126,104 L172,104 L172,107 L126,107Z M124,111.5 L178,111.5 L178,114.5 L124,114.5Z M122,119.5 L186,119.5 L186,123 L122,123Z" fill="#7e411d"/>
<path d="M122.5,100 L125.5,100 L124.5,132 L121.5,132Z M183,123 L187,123 L190,132 L186,132Z" fill="#643216"/>
<path d="M181,118 C186,118 191,121 191.5,125 C191,128 186,128 182,126Z" fill="#7e411d"/>
<!-- blue bag -->
<path d="M126,58.5 C120,68 116,76 113,84 M128.5,59 C127,68 125,78 124,88" fill="none" stroke="#3a8ede" stroke-width="1.8"/>
<path d="M100,86 C106,82.5 112,82 117,82.5 C123,88 127,94 130,100 C126,108 122,118 119.5,128 C114,126 108,122 105.5,116 C104,106 102,96 100,86Z" fill="#3c9ae4"/>
<path d="M117,82.5 C123,88 127,94 130,100 C126,108 122,118 119.5,128 C118,114 118,98 117,82.5Z" fill="#2f7fd0"/>
<path d="M104,100 C110,98 120,98 127,97" fill="none" stroke="#6fc0f4" stroke-width="1.2" opacity="0.8"/>
<rect x="203" y="127" width="5" height="5" fill="#e6c81a"/><rect x="210" y="128" width="6" height="4" fill="#c03a2a"/>
</g>
</svg>
<div class="b" style="left:1070px;top:791px;width:216px;height:133px;background:#ecf0f3;"></div>
<div class="b" style="left:1153.8999999999999px;top:833.2px;width:48.8px;height:48.8px;background:#fff;border-radius:50%;"></div>
<div class="b" style="left:1171.3px;top:855.85px;width:14px;height:3.5px;background:#3cbfc0;"></div>
<div class="b" style="left:1176.55px;top:850.6px;width:3.5px;height:14px;background:#3cbfc0;"></div>
</section>
<section>
<div class="b" style="left:331px;top:960.3px;width:478px;height:204.7px;background:#fff;box-shadow:0 0 2.5px rgba(60,80,100,0.22);"></div>
<span class="t" style="left:363.40px;top:982.70px;font-size:16px;line-height:17px;color:#2a3140;font-weight:700;letter-spacing:0.166px;">MY BLOOD TESTS</span>
<svg class="b" style="left:0;top:0;overflow:visible" width="1" height="1"><g transform="translate(772.2,990.7) rotate(-43.5) translate(-10.7,0)" fill="none" stroke="#3c3c3c" stroke-width="1.1" stroke-linejoin="miter" stroke-linecap="butt"><path d="M15,-3.25 L3.6,-3.25 L0.2,0 L3.6,3.25 L18.0,3.25 A3.3,3.25 0 0 0 18.0,-3.25 L16.6,-3.25"/><path d="M4.8,0 L15.6,0"/><path d="M3.6,-3.25 Q5.2,0 3.6,3.25"/><path d="M16.6,-3.25 Q14.9,0 16.6,3.25"/></g></svg>
<div class="b" style="left:348px;top:1011px;width:216px;height:132px;background:#ecf0f3;"></div>
<span class="t" style="left:365.60px;top:1032.80px;font-size:12px;line-height:14px;color:#2a3140;letter-spacing:-0.251px;">TOTAL CHOLESTEROL</span>
<div class="b" style="left:355.2px;top:1053.9px;width:76px;height:76px;border-radius:50%;background:conic-gradient(from 180deg,#ffd92a 0deg,#ecd634 25deg,#b9cf55 80deg,#84c877 140deg,#5cc39c 200deg,#3cbfc0 245deg,#3cbfc0 256deg,#bfd3d3 256.5deg,#bfd3d3 360deg);-webkit-mask:radial-gradient(circle closest-side,transparent 27.2px,#000 28.0px,#000 36.0px,transparent 36.8px);mask:radial-gradient(circle closest-side,transparent 27.2px,#000 28.0px,#000 36.0px,transparent 36.8px);"></div>
<span class="t" style="left:384.95px;top:1076.40px;font-size:12px;line-height:14px;color:#2a3140;letter-spacing:-0.091px;">5.6</span>
<span class="t" style="left:370.20px;top:1090.50px;font-size:12px;line-height:14px;color:#2a3140;">MMOL/L</span>
<svg class="b" style="left:442px;top:1056px;" width="112" height="68" viewBox="0 0 112 68"><path d="M4.0,3.5 L4.0,62.0 L104.8,62.0" fill="none" stroke="#3cbfc0" stroke-width="3.6"/><polyline points="4.0,45.0 18.9,33.5 44.8,20.2 58.6,34.0 86.5,37.9 101.8,23.4" fill="none" stroke="#3cbfc0" stroke-width="3.8" stroke-linejoin="round"/><circle cx="18.9" cy="33.5" r="3.35" fill="#3cbfc0" stroke="#e6f3f4" stroke-width="1.5"/><circle cx="44.8" cy="20.2" r="3.35" fill="#3cbfc0" stroke="#e6f3f4" stroke-width="1.5"/><circle cx="58.6" cy="34.0" r="3.35" fill="#3cbfc0" stroke="#e6f3f4" stroke-width="1.5"/><circle cx="86.5" cy="37.9" r="3.35" fill="#3cbfc0" stroke="#e6f3f4" stroke-width="1.5"/><circle cx="101.8" cy="23.4" r="3.35" fill="#3cbfc0" stroke="#e6f3f4" stroke-width="1.5"/></svg>
<div class="b" style="left:575px;top:1011px;width:216px;height:132px;background:#ecf0f3;"></div>
<div class="b" style="left:658.6px;top:1053.6px;width:48.8px;height:48.8px;background:#fff;border-radius:50%;"></div>
<div class="b" style="left:676px;top:1076.25px;width:14px;height:3.5px;background:#3cbfc0;"></div>
<div class="b" style="left:681.25px;top:1071px;width:3.5px;height:14px;background:#3cbfc0;"></div>
</section>
<section>
<div class="b" style="left:826px;top:960.3px;width:477px;height:204.7px;background:#fff;box-shadow:0 0 2.5px rgba(60,80,100,0.22);"></div>
<span class="t" style="left:855.00px;top:982.70px;font-size:16px;line-height:17px;color:#2a3140;font-weight:700;letter-spacing:-0.108px;">MY LIFESTYLE</span>
<svg class="b" style="left:0;top:0;overflow:visible" width="1" height="1"><g transform="translate(1264,990.7) rotate(-43.5) translate(-10.7,0)" fill="none" stroke="#3c3c3c" stroke-width="1.1" stroke-linejoin="miter" stroke-linecap="butt"><path d="M15,-3.25 L3.6,-3.25 L0.2,0 L3.6,3.25 L18.0,3.25 A3.3,3.25 0 0 0 18.0,-3.25 L16.6,-3.25"/><path d="M4.8,0 L15.6,0"/><path d="M3.6,-3.25 Q5.2,0 3.6,3.25"/><path d="M16.6,-3.25 Q14.9,0 16.6,3.25"/></g></svg>
<div class="b" style="left:843px;top:1011px;width:216px;height:132px;background:#ecf0f3;"></div>
<span class="t" style="left:860.60px;top:1032.80px;font-size:12px;line-height:14px;color:#2a3140;letter-spacing:-0.120px;transform:scaleX(0.9589);transform-origin:0 0;">RESTING HEART RATE</span>
<div class="b" style="left:850.2px;top:1053.9px;width:76px;height:76px;border-radius:50%;background:conic-gradient(from 180deg,#ffd92a 0deg,#ecd634 25deg,#b9cf55 80deg,#84c877 140deg,#5cc39c 200deg,#3cbfc0 245deg,#3cbfc0 256deg,#bfd3d3 256.5deg,#bfd3d3 360deg);-webkit-mask:radial-gradient(circle closest-side,transparent 27.2px,#000 28.0px,#000 36.0px,transparent 36.8px);mask:radial-gradient(circle closest-side,transparent 27.2px,#000 28.0px,#000 36.0px,transparent 36.8px);"></div>
<span class="t" style="left:866.95px;top:1085.30px;font-size:12px;line-height:14px;color:#2a3140;letter-spacing:-0.037px;">68 BPM</span>
<svg class="b" style="left:937px;top:1056px;" width="112" height="68" viewBox="0 0 112 68"><path d="M4.0,3.5 L4.0,62.0 L104.8,62.0" fill="none" stroke="#3cbfc0" stroke-width="3.6"/><polyline points="4.0,45.0 18.9,33.5 44.8,20.2 58.6,34.0 86.5,37.9 101.8,23.4" fill="none" stroke="#3cbfc0" stroke-width="3.8" stroke-linejoin="round"/><circle cx="18.9" cy="33.5" r="3.35" fill="#3cbfc0" stroke="#e6f3f4" stroke-width="1.5"/><circle cx="44.8" cy="20.2" r="3.35" fill="#3cbfc0" stroke="#e6f3f4" stroke-width="1.5"/><circle cx="58.6" cy="34.0" r="3.35" fill="#3cbfc0" stroke="#e6f3f4" stroke-width="1.5"/><circle cx="86.5" cy="37.9" r="3.35" fill="#3cbfc0" stroke="#e6f3f4" stroke-width="1.5"/><circle cx="101.8" cy="23.4" r="3.35" fill="#3cbfc0" stroke="#e6f3f4" stroke-width="1.5"/></svg>
<div class="b" style="left:1070px;top:1011px;width:216px;height:132px;background:#ecf0f3;"></div>
<span class="t" style="left:1087.60px;top:1032.80px;font-size:12px;line-height:14px;color:#2a3140;letter-spacing:-0.120px;transform:scaleX(0.9499);transform-origin:0 0;">DAILY STEPS</span>
<div class="b" style="left:1077.2px;top:1053.9px;width:76px;height:76px;border-radius:50%;background:conic-gradient(from 180deg,#ffd92a 0deg,#ecd634 25deg,#b9cf55 80deg,#84c877 140deg,#5cc39c 200deg,#3cbfc0 245deg,#3cbfc0 256deg,#bfd3d3 256.5deg,#bfd3d3 360deg);-webkit-mask:radial-gradient(circle closest-side,transparent 27.2px,#000 28.0px,#000 36.0px,transparent 36.8px);mask:radial-gradient(circle closest-side,transparent 27.2px,#000 28.0px,#000 36.0px,transparent 36.8px);"></div>
<span class="t" style="left:1099.45px;top:1076.40px;font-size:12px;line-height:14px;color:#2a3140;letter-spacing:0.367px;">7,800</span>
<span class="t" style="left:1098.70px;top:1090.50px;font-size:12px;line-height:14px;color:#2a3140;letter-spacing:-0.120px;transform:scaleX(0.8490);transform-origin:0 0;">STEPS</span>
<svg class="b" style="left:1164px;top:1056px;" width="112" height="68" viewBox="0 0 112 68"><path d="M4.0,3.5 L4.0,62.0 L104.8,62.0" fill="none" stroke="#3cbfc0" stroke-width="3.6"/><polyline points="4.0,45.0 18.9,33.5 44.8,20.2 58.6,34.0 86.5,37.9 101.8,23.4" fill="none" stroke="#3cbfc0" stroke-width="3.8" stroke-linejoin="round"/><circle cx="18.9" cy="33.5" r="3.35" fill="#3cbfc0" stroke="#e6f3f4" stroke-width="1.5"/><circle cx="44.8" cy="20.2" r="3.35" fill="#3cbfc0" stroke="#e6f3f4" stroke-width="1.5"/><circle cx="58.6" cy="34.0" r="3.35" fill="#3cbfc0" stroke="#e6f3f4" stroke-width="1.5"/><circle cx="86.5" cy="37.9" r="3.35" fill="#3cbfc0" stroke="#e6f3f4" stroke-width="1.5"/><circle cx="101.8" cy="23.4" r="3.35" fill="#3cbfc0" stroke="#e6f3f4" stroke-width="1.5"/></svg>
</section>
<section>
<div class="b" style="left:331px;top:1182px;width:478px;height:204.5px;background:#fff;box-shadow:0 0 2.5px rgba(60,80,100,0.22);"></div>
<span class="t" style="left:363.40px;top:1204.50px;font-size:16px;line-height:17px;color:#2a3140;font-weight:700;letter-spacing:-0.008px;">MY RISKS</span>
<svg class="b" style="left:0;top:0;overflow:visible" width="1" height="1"><g transform="translate(772.2,1212.3) rotate(-43.5) translate(-10.7,0)" fill="none" stroke="#3c3c3c" stroke-width="1.1" stroke-linejoin="miter" stroke-linecap="butt"><path d="M15,-3.25 L3.6,-3.25 L0.2,0 L3.6,3.25 L18.0,3.25 A3.3,3.25 0 0 0 18.0,-3.25 L16.6,-3.25"/><path d="M4.8,0 L15.6,0"/><path d="M3.6,-3.25 Q5.2,0 3.6,3.25"/><path d="M16.6,-3.25 Q14.9,0 16.6,3.25"/></g></svg>
<div class="b" style="left:348px;top:1233px;width:216px;height:131.5px;background:#ecf0f3;"></div>
<div class="b" style="left:575px;top:1233px;width:216px;height:131.5px;background:#ecf0f3;"></div>
<div class="b" style="left:432.1px;top:1275.0px;width:48.8px;height:48.8px;background:#fff;border-radius:50%;"></div>
<div class="b" style="left:449.5px;top:1297.65px;width:14px;height:3.5px;background:#3cbfc0;"></div>
<div class="b" style="left:454.75px;top:1292.4px;width:3.5px;height:14px;background:#3cbfc0;"></div>
<div class="b" style="left:658.6px;top:1275.0px;width:48.8px;height:48.8px;background:#fff;border-radius:50%;"></div>
<div class="b" style="left:676px;top:1297.65px;width:14px;height:3.5px;background:#3cbfc0;"></div>
<div class="b" style="left:681.25px;top:1292.4px;width:3.5px;height:14px;background:#3cbfc0;"></div>
</section>
</main>
<footer>
<div class="b" style="left:275px;top:1435.5px;width:1085px;height:64.5px;background:#5d6c80;"></div>
<span class="t" style="left:524.00px;top:1462.60px;font-size:12px;line-height:14px;color:#fff;letter-spacing:-0.120px;transform:scaleX(0.9699);transform-origin:0 0;">COPYRIGHT BY MOTIVE AGE AND DESIGN BY LEMOSYS</span>
</footer>
</body>
</html>
